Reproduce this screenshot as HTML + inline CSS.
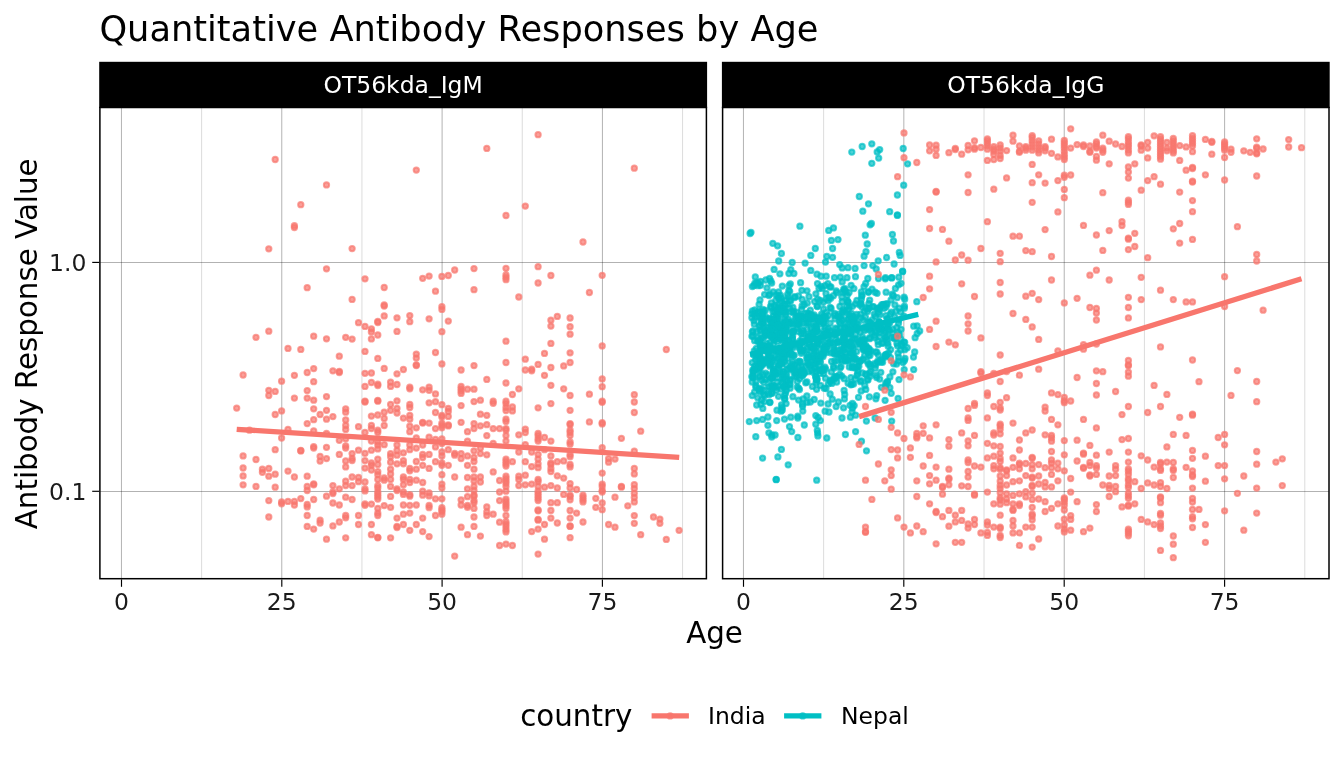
<!DOCTYPE html>
<html lang="en"><head><meta charset="utf-8"><title>Quantitative Antibody Responses by Age</title>
<style>
html,body{margin:0;padding:0;background:#fff}
svg{display:block}
text{font-family:"DejaVu Sans","Liberation Sans",sans-serif;fill:#000}
.ax{font-size:23.47px;fill:#1a1a1a}
.st{font-size:23.47px;fill:#fff}
.lab{font-size:29.33px}
.ttl{font-size:35.2px}
.gM{stroke:#000;stroke-opacity:.3;stroke-width:1}
.gm{stroke:#000;stroke-opacity:.14;stroke-width:1}
.pI{fill:#F8766D;stroke:#F8766D;fill-opacity:.7;stroke-opacity:.7;stroke-width:2}
.pN{fill:#00BFC4;stroke:#00BFC4;fill-opacity:.7;stroke-opacity:.7;stroke-width:2}
.tk{stroke:#000;stroke-width:1.15}
</style></head><body>
<svg width="1344" height="768" viewBox="0 0 1344 768">
<rect width="1344" height="768" fill="#fff"/>
<text class="ttl" x="99.4" y="40.6">Quantitative Antibody Responses by Age</text>

<g>
<line class="gm" x1="201.61" x2="201.61" y1="107.5" y2="578.7"/>
<line class="gm" x1="361.94" x2="361.94" y1="107.5" y2="578.7"/>
<line class="gm" x1="522.26" x2="522.26" y1="107.5" y2="578.7"/>
<line class="gm" x1="682.59" x2="682.59" y1="107.5" y2="578.7"/>
<line class="gM" x1="121.45" x2="121.45" y1="107.5" y2="578.7"/>
<line class="gM" x1="281.78" x2="281.78" y1="107.5" y2="578.7"/>
<line class="gM" x1="442.1" x2="442.1" y1="107.5" y2="578.7"/>
<line class="gM" x1="602.43" x2="602.43" y1="107.5" y2="578.7"/>
<line class="gM" x1="99.9" x2="706.4" y1="262.5" y2="262.5"/>
<line class="gM" x1="99.9" x2="706.4" y1="491.5" y2="491.5"/>
</g>
<g>
<line class="gm" x1="823.64" x2="823.64" y1="107.5" y2="578.7"/>
<line class="gm" x1="984.03" x2="984.03" y1="107.5" y2="578.7"/>
<line class="gm" x1="1144.42" x2="1144.42" y1="107.5" y2="578.7"/>
<line class="gm" x1="1304.81" x2="1304.81" y1="107.5" y2="578.7"/>
<line class="gM" x1="743.45" x2="743.45" y1="107.5" y2="578.7"/>
<line class="gM" x1="903.84" x2="903.84" y1="107.5" y2="578.7"/>
<line class="gM" x1="1064.22" x2="1064.22" y1="107.5" y2="578.7"/>
<line class="gM" x1="1224.61" x2="1224.61" y1="107.5" y2="578.7"/>
<line class="gM" x1="722.6" x2="1329.0" y1="262.5" y2="262.5"/>
<line class="gM" x1="722.6" x2="1329.0" y1="491.5" y2="491.5"/>
</g>
<g class="pI"><circle cx="275.2" cy="159.5" r="2.65"/><circle cx="275.2" cy="391.4" r="2.65"/><circle cx="275.2" cy="414.5" r="2.65"/><circle cx="275.2" cy="449.7" r="2.65"/><circle cx="275.2" cy="474.2" r="2.65"/><circle cx="275.2" cy="487.2" r="2.65"/><circle cx="326.5" cy="184.9" r="2.65"/><circle cx="326.5" cy="268.8" r="2.65"/><circle cx="326.5" cy="338.8" r="2.65"/><circle cx="326.5" cy="396.6" r="2.65"/><circle cx="326.5" cy="410.3" r="2.65"/><circle cx="326.5" cy="419.2" r="2.65"/><circle cx="326.5" cy="433.3" r="2.65"/><circle cx="326.5" cy="447.3" r="2.65"/><circle cx="326.5" cy="458.6" r="2.65"/><circle cx="326.5" cy="496.2" r="2.65"/><circle cx="326.5" cy="539.2" r="2.65"/><circle cx="300.8" cy="204.7" r="2.65"/><circle cx="300.8" cy="349.4" r="2.65"/><circle cx="300.8" cy="450.5" r="2.65"/><circle cx="300.8" cy="450.9" r="2.65"/><circle cx="300.8" cy="498.6" r="2.65"/><circle cx="294.4" cy="225.7" r="2.65"/><circle cx="294.4" cy="227.6" r="2.65"/><circle cx="294.4" cy="375.3" r="2.65"/><circle cx="294.4" cy="398.1" r="2.65"/><circle cx="294.4" cy="477" r="2.65"/><circle cx="294.4" cy="501.4" r="2.65"/><circle cx="294.4" cy="505" r="2.65"/><circle cx="268.8" cy="248.8" r="2.65"/><circle cx="268.8" cy="331.2" r="2.65"/><circle cx="268.8" cy="390.3" r="2.65"/><circle cx="268.8" cy="395.5" r="2.65"/><circle cx="268.8" cy="468.4" r="2.65"/><circle cx="268.8" cy="476.2" r="2.65"/><circle cx="268.8" cy="500.6" r="2.65"/><circle cx="268.8" cy="517" r="2.65"/><circle cx="352.1" cy="248.6" r="2.65"/><circle cx="352.1" cy="299.4" r="2.65"/><circle cx="352.1" cy="339.1" r="2.65"/><circle cx="352.1" cy="453.6" r="2.65"/><circle cx="352.1" cy="458.3" r="2.65"/><circle cx="352.1" cy="460.6" r="2.65"/><circle cx="352.1" cy="477" r="2.65"/><circle cx="352.1" cy="485.6" r="2.65"/><circle cx="352.1" cy="499.5" r="2.65"/><circle cx="416.3" cy="170.1" r="2.65"/><circle cx="416.3" cy="354.1" r="2.65"/><circle cx="416.3" cy="358.1" r="2.65"/><circle cx="416.3" cy="364.8" r="2.65"/><circle cx="416.3" cy="365.6" r="2.65"/><circle cx="416.3" cy="427.8" r="2.65"/><circle cx="416.3" cy="438" r="2.65"/><circle cx="416.3" cy="448.1" r="2.65"/><circle cx="416.3" cy="461.4" r="2.65"/><circle cx="416.3" cy="469.2" r="2.65"/><circle cx="416.3" cy="480.2" r="2.65"/><circle cx="416.3" cy="505" r="2.65"/><circle cx="416.3" cy="524.5" r="2.65"/><circle cx="486.8" cy="148.4" r="2.65"/><circle cx="486.8" cy="379.4" r="2.65"/><circle cx="486.8" cy="415.3" r="2.65"/><circle cx="486.8" cy="424.7" r="2.65"/><circle cx="486.8" cy="435.6" r="2.65"/><circle cx="486.8" cy="454.8" r="2.65"/><circle cx="486.8" cy="506.9" r="2.65"/><circle cx="486.8" cy="511.9" r="2.65"/><circle cx="486.8" cy="515.5" r="2.65"/><circle cx="538.1" cy="134.7" r="2.65"/><circle cx="538.1" cy="266.7" r="2.65"/><circle cx="538.1" cy="283" r="2.65"/><circle cx="538.1" cy="364.4" r="2.65"/><circle cx="538.1" cy="407.8" r="2.65"/><circle cx="538.1" cy="433.3" r="2.65"/><circle cx="538.1" cy="435.6" r="2.65"/><circle cx="538.1" cy="438.8" r="2.65"/><circle cx="538.1" cy="441.1" r="2.65"/><circle cx="538.1" cy="454.4" r="2.65"/><circle cx="538.1" cy="459.1" r="2.65"/><circle cx="538.1" cy="463.8" r="2.65"/><circle cx="538.1" cy="467.7" r="2.65"/><circle cx="538.1" cy="479.4" r="2.65"/><circle cx="538.1" cy="481.7" r="2.65"/><circle cx="538.1" cy="486.4" r="2.65"/><circle cx="538.1" cy="491.2" r="2.65"/><circle cx="538.1" cy="493.6" r="2.65"/><circle cx="538.1" cy="495.9" r="2.65"/><circle cx="538.1" cy="498.3" r="2.65"/><circle cx="538.1" cy="500.6" r="2.65"/><circle cx="538.1" cy="510" r="2.65"/><circle cx="538.1" cy="510.8" r="2.65"/><circle cx="538.1" cy="519.4" r="2.65"/><circle cx="538.1" cy="520.2" r="2.65"/><circle cx="538.1" cy="529.1" r="2.65"/><circle cx="538.1" cy="554.1" r="2.65"/><circle cx="634.3" cy="168.2" r="2.65"/><circle cx="634.3" cy="394.7" r="2.65"/><circle cx="634.3" cy="402" r="2.65"/><circle cx="634.3" cy="412.5" r="2.65"/><circle cx="634.3" cy="451.2" r="2.65"/><circle cx="634.3" cy="468.4" r="2.65"/><circle cx="634.3" cy="473.9" r="2.65"/><circle cx="634.3" cy="484.7" r="2.65"/><circle cx="634.3" cy="488.6" r="2.65"/><circle cx="634.3" cy="493.3" r="2.65"/><circle cx="634.3" cy="497.5" r="2.65"/><circle cx="634.3" cy="501.9" r="2.65"/><circle cx="634.3" cy="515.6" r="2.65"/><circle cx="634.3" cy="523.3" r="2.65"/><circle cx="525.3" cy="206.1" r="2.65"/><circle cx="525.3" cy="359.2" r="2.65"/><circle cx="525.3" cy="370" r="2.65"/><circle cx="525.3" cy="429.1" r="2.65"/><circle cx="525.3" cy="432.5" r="2.65"/><circle cx="525.3" cy="444.7" r="2.65"/><circle cx="525.3" cy="461.7" r="2.65"/><circle cx="525.3" cy="475.2" r="2.65"/><circle cx="525.3" cy="484.8" r="2.65"/><circle cx="506" cy="215.5" r="2.65"/><circle cx="506" cy="268.3" r="2.65"/><circle cx="506" cy="275" r="2.65"/><circle cx="506" cy="277.3" r="2.65"/><circle cx="506" cy="279.7" r="2.65"/><circle cx="506" cy="341.2" r="2.65"/><circle cx="506" cy="362.5" r="2.65"/><circle cx="506" cy="383" r="2.65"/><circle cx="506" cy="401.2" r="2.65"/><circle cx="506" cy="403.6" r="2.65"/><circle cx="506" cy="407.5" r="2.65"/><circle cx="506" cy="410.6" r="2.65"/><circle cx="506" cy="419.2" r="2.65"/><circle cx="506" cy="421.6" r="2.65"/><circle cx="506" cy="428.6" r="2.65"/><circle cx="506" cy="430.2" r="2.65"/><circle cx="506" cy="435.6" r="2.65"/><circle cx="506" cy="441.1" r="2.65"/><circle cx="506" cy="459.1" r="2.65"/><circle cx="506" cy="461.4" r="2.65"/><circle cx="506" cy="463.8" r="2.65"/><circle cx="506" cy="466.1" r="2.65"/><circle cx="506" cy="476.2" r="2.65"/><circle cx="506" cy="478.6" r="2.65"/><circle cx="506" cy="480.9" r="2.65"/><circle cx="506" cy="483.3" r="2.65"/><circle cx="506" cy="486.4" r="2.65"/><circle cx="506" cy="491.2" r="2.65"/><circle cx="506" cy="499.1" r="2.65"/><circle cx="506" cy="501.4" r="2.65"/><circle cx="506" cy="503.8" r="2.65"/><circle cx="506" cy="506.1" r="2.65"/><circle cx="506" cy="508.4" r="2.65"/><circle cx="506" cy="515.5" r="2.65"/><circle cx="506" cy="521.7" r="2.65"/><circle cx="506" cy="524.1" r="2.65"/><circle cx="506" cy="526.4" r="2.65"/><circle cx="506" cy="529.5" r="2.65"/><circle cx="506" cy="531.9" r="2.65"/><circle cx="506" cy="544.1" r="2.65"/><circle cx="583" cy="242" r="2.65"/><circle cx="583" cy="495.2" r="2.65"/><circle cx="583" cy="497.5" r="2.65"/><circle cx="583" cy="499.8" r="2.65"/><circle cx="583" cy="501.9" r="2.65"/><circle cx="583" cy="522" r="2.65"/><circle cx="307.2" cy="287.7" r="2.65"/><circle cx="307.2" cy="372.5" r="2.65"/><circle cx="307.2" cy="390.6" r="2.65"/><circle cx="307.2" cy="398.1" r="2.65"/><circle cx="307.2" cy="423.6" r="2.65"/><circle cx="307.2" cy="476.2" r="2.65"/><circle cx="307.2" cy="486.4" r="2.65"/><circle cx="307.2" cy="490.5" r="2.65"/><circle cx="307.2" cy="504.5" r="2.65"/><circle cx="307.2" cy="506.9" r="2.65"/><circle cx="307.2" cy="515.5" r="2.65"/><circle cx="307.2" cy="526.4" r="2.65"/><circle cx="365" cy="278.8" r="2.65"/><circle cx="365" cy="326.4" r="2.65"/><circle cx="365" cy="351.4" r="2.65"/><circle cx="365" cy="373.3" r="2.65"/><circle cx="365" cy="386.4" r="2.65"/><circle cx="365" cy="401.2" r="2.65"/><circle cx="365" cy="402" r="2.65"/><circle cx="365" cy="432.5" r="2.65"/><circle cx="365" cy="453.3" r="2.65"/><circle cx="365" cy="460.6" r="2.65"/><circle cx="365" cy="468.1" r="2.65"/><circle cx="365" cy="482" r="2.65"/><circle cx="365" cy="488.8" r="2.65"/><circle cx="365" cy="490.9" r="2.65"/><circle cx="365" cy="503.8" r="2.65"/><circle cx="365" cy="505.3" r="2.65"/><circle cx="384.2" cy="287.5" r="2.65"/><circle cx="384.2" cy="305" r="2.65"/><circle cx="384.2" cy="306.1" r="2.65"/><circle cx="384.2" cy="315.9" r="2.65"/><circle cx="384.2" cy="368.4" r="2.65"/><circle cx="384.2" cy="412.2" r="2.65"/><circle cx="384.2" cy="418.4" r="2.65"/><circle cx="384.2" cy="425.5" r="2.65"/><circle cx="384.2" cy="444.7" r="2.65"/><circle cx="384.2" cy="477.8" r="2.65"/><circle cx="384.2" cy="480.2" r="2.65"/><circle cx="384.2" cy="505.6" r="2.65"/><circle cx="422.7" cy="278.3" r="2.65"/><circle cx="422.7" cy="389.8" r="2.65"/><circle cx="422.7" cy="422.3" r="2.65"/><circle cx="422.7" cy="423.1" r="2.65"/><circle cx="422.7" cy="445" r="2.65"/><circle cx="422.7" cy="454.4" r="2.65"/><circle cx="422.7" cy="457.5" r="2.65"/><circle cx="422.7" cy="465.3" r="2.65"/><circle cx="422.7" cy="482.5" r="2.65"/><circle cx="422.7" cy="491.2" r="2.65"/><circle cx="422.7" cy="495.2" r="2.65"/><circle cx="422.7" cy="518.1" r="2.65"/><circle cx="422.7" cy="531.6" r="2.65"/><circle cx="429.1" cy="276.1" r="2.65"/><circle cx="429.1" cy="318.8" r="2.65"/><circle cx="429.1" cy="387.2" r="2.65"/><circle cx="429.1" cy="390.3" r="2.65"/><circle cx="429.1" cy="402.8" r="2.65"/><circle cx="429.1" cy="423.1" r="2.65"/><circle cx="429.1" cy="437.2" r="2.65"/><circle cx="429.1" cy="454.4" r="2.65"/><circle cx="429.1" cy="468.4" r="2.65"/><circle cx="429.1" cy="495.9" r="2.65"/><circle cx="429.1" cy="507.7" r="2.65"/><circle cx="429.1" cy="536.6" r="2.65"/><circle cx="429.1" cy="492.8" r="2.65"/><circle cx="429.1" cy="505.3" r="2.65"/><circle cx="397" cy="317.8" r="2.65"/><circle cx="397" cy="331.4" r="2.65"/><circle cx="397" cy="373.8" r="2.65"/><circle cx="397" cy="384.5" r="2.65"/><circle cx="397" cy="400.8" r="2.65"/><circle cx="397" cy="408.3" r="2.65"/><circle cx="397" cy="413" r="2.65"/><circle cx="397" cy="445" r="2.65"/><circle cx="397" cy="450.5" r="2.65"/><circle cx="397" cy="455.2" r="2.65"/><circle cx="397" cy="463.8" r="2.65"/><circle cx="397" cy="488.8" r="2.65"/><circle cx="397" cy="490.5" r="2.65"/><circle cx="397" cy="518.1" r="2.65"/><circle cx="397" cy="526.4" r="2.65"/><circle cx="397" cy="527.5" r="2.65"/><circle cx="409.8" cy="315.6" r="2.65"/><circle cx="409.8" cy="321.7" r="2.65"/><circle cx="409.8" cy="387.2" r="2.65"/><circle cx="409.8" cy="388.8" r="2.65"/><circle cx="409.8" cy="404.4" r="2.65"/><circle cx="409.8" cy="407.5" r="2.65"/><circle cx="409.8" cy="415.3" r="2.65"/><circle cx="409.8" cy="419.2" r="2.65"/><circle cx="409.8" cy="426.2" r="2.65"/><circle cx="409.8" cy="431.7" r="2.65"/><circle cx="409.8" cy="445" r="2.65"/><circle cx="409.8" cy="449.7" r="2.65"/><circle cx="409.8" cy="468.4" r="2.65"/><circle cx="409.8" cy="470.8" r="2.65"/><circle cx="409.8" cy="479.4" r="2.65"/><circle cx="409.8" cy="482.5" r="2.65"/><circle cx="409.8" cy="494.7" r="2.65"/><circle cx="409.8" cy="496.2" r="2.65"/><circle cx="409.8" cy="505.3" r="2.65"/><circle cx="409.8" cy="513.1" r="2.65"/><circle cx="409.8" cy="530.3" r="2.65"/><circle cx="358.5" cy="322.7" r="2.65"/><circle cx="358.5" cy="426.7" r="2.65"/><circle cx="358.5" cy="450.2" r="2.65"/><circle cx="358.5" cy="477.5" r="2.65"/><circle cx="358.5" cy="481.7" r="2.65"/><circle cx="358.5" cy="515.5" r="2.65"/><circle cx="358.5" cy="524.5" r="2.65"/><circle cx="377.8" cy="321.4" r="2.65"/><circle cx="377.8" cy="322.5" r="2.65"/><circle cx="377.8" cy="335" r="2.65"/><circle cx="377.8" cy="358.4" r="2.65"/><circle cx="377.8" cy="384.1" r="2.65"/><circle cx="377.8" cy="385.6" r="2.65"/><circle cx="377.8" cy="400.5" r="2.65"/><circle cx="377.8" cy="401.2" r="2.65"/><circle cx="377.8" cy="415" r="2.65"/><circle cx="377.8" cy="430.2" r="2.65"/><circle cx="377.8" cy="432.5" r="2.65"/><circle cx="377.8" cy="441.9" r="2.65"/><circle cx="377.8" cy="445" r="2.65"/><circle cx="377.8" cy="448.9" r="2.65"/><circle cx="377.8" cy="459.1" r="2.65"/><circle cx="377.8" cy="464.5" r="2.65"/><circle cx="377.8" cy="471.6" r="2.65"/><circle cx="377.8" cy="474.7" r="2.65"/><circle cx="377.8" cy="479.4" r="2.65"/><circle cx="377.8" cy="485.6" r="2.65"/><circle cx="377.8" cy="488" r="2.65"/><circle cx="377.8" cy="492" r="2.65"/><circle cx="377.8" cy="494.4" r="2.65"/><circle cx="377.8" cy="496.7" r="2.65"/><circle cx="377.8" cy="499.1" r="2.65"/><circle cx="377.8" cy="508.4" r="2.65"/><circle cx="377.8" cy="513.1" r="2.65"/><circle cx="377.8" cy="515.5" r="2.65"/><circle cx="377.8" cy="537.3" r="2.65"/><circle cx="377.8" cy="537.8" r="2.65"/><circle cx="371.4" cy="328.8" r="2.65"/><circle cx="371.4" cy="331.9" r="2.65"/><circle cx="371.4" cy="338.9" r="2.65"/><circle cx="371.4" cy="373" r="2.65"/><circle cx="371.4" cy="382.5" r="2.65"/><circle cx="371.4" cy="416.1" r="2.65"/><circle cx="371.4" cy="425.5" r="2.65"/><circle cx="371.4" cy="428.6" r="2.65"/><circle cx="371.4" cy="441.1" r="2.65"/><circle cx="371.4" cy="450.2" r="2.65"/><circle cx="371.4" cy="463" r="2.65"/><circle cx="371.4" cy="465.3" r="2.65"/><circle cx="371.4" cy="470" r="2.65"/><circle cx="371.4" cy="504.1" r="2.65"/><circle cx="371.4" cy="524.5" r="2.65"/><circle cx="371.4" cy="534.7" r="2.65"/><circle cx="256" cy="337.3" r="2.65"/><circle cx="256" cy="459.5" r="2.65"/><circle cx="256" cy="486.4" r="2.65"/><circle cx="313.7" cy="336.2" r="2.65"/><circle cx="313.7" cy="368.6" r="2.65"/><circle cx="313.7" cy="381.7" r="2.65"/><circle cx="313.7" cy="400.2" r="2.65"/><circle cx="313.7" cy="408.8" r="2.65"/><circle cx="313.7" cy="419.7" r="2.65"/><circle cx="313.7" cy="430.9" r="2.65"/><circle cx="313.7" cy="446.6" r="2.65"/><circle cx="313.7" cy="448.1" r="2.65"/><circle cx="313.7" cy="483.8" r="2.65"/><circle cx="313.7" cy="484.8" r="2.65"/><circle cx="313.7" cy="499.5" r="2.65"/><circle cx="313.7" cy="529.1" r="2.65"/><circle cx="345.7" cy="337.3" r="2.65"/><circle cx="345.7" cy="408.8" r="2.65"/><circle cx="345.7" cy="412.2" r="2.65"/><circle cx="345.7" cy="420" r="2.65"/><circle cx="345.7" cy="425.5" r="2.65"/><circle cx="345.7" cy="429.4" r="2.65"/><circle cx="345.7" cy="438.8" r="2.65"/><circle cx="345.7" cy="445.8" r="2.65"/><circle cx="345.7" cy="448.1" r="2.65"/><circle cx="345.7" cy="460.9" r="2.65"/><circle cx="345.7" cy="466.9" r="2.65"/><circle cx="345.7" cy="481.2" r="2.65"/><circle cx="345.7" cy="485.6" r="2.65"/><circle cx="345.7" cy="497.2" r="2.65"/><circle cx="345.7" cy="515.5" r="2.65"/><circle cx="345.7" cy="517.8" r="2.65"/><circle cx="345.7" cy="537.8" r="2.65"/><circle cx="288" cy="348.4" r="2.65"/><circle cx="288" cy="429.4" r="2.65"/><circle cx="288" cy="471.1" r="2.65"/><circle cx="288" cy="501.4" r="2.65"/><circle cx="339.3" cy="356.2" r="2.65"/><circle cx="339.3" cy="371.4" r="2.65"/><circle cx="339.3" cy="372.5" r="2.65"/><circle cx="339.3" cy="440.3" r="2.65"/><circle cx="339.3" cy="454.4" r="2.65"/><circle cx="339.3" cy="488.8" r="2.65"/><circle cx="339.3" cy="505" r="2.65"/><circle cx="339.3" cy="522" r="2.65"/><circle cx="332.9" cy="370.8" r="2.65"/><circle cx="332.9" cy="416.6" r="2.65"/><circle cx="332.9" cy="485.6" r="2.65"/><circle cx="332.9" cy="492" r="2.65"/><circle cx="332.9" cy="493.6" r="2.65"/><circle cx="332.9" cy="503" r="2.65"/><circle cx="332.9" cy="525.9" r="2.65"/><circle cx="403.4" cy="369.5" r="2.65"/><circle cx="403.4" cy="418.1" r="2.65"/><circle cx="403.4" cy="452.8" r="2.65"/><circle cx="403.4" cy="460.6" r="2.65"/><circle cx="403.4" cy="463.8" r="2.65"/><circle cx="403.4" cy="477" r="2.65"/><circle cx="403.4" cy="479.4" r="2.65"/><circle cx="403.4" cy="484.8" r="2.65"/><circle cx="403.4" cy="492" r="2.65"/><circle cx="403.4" cy="494.4" r="2.65"/><circle cx="403.4" cy="505" r="2.65"/><circle cx="403.4" cy="514.2" r="2.65"/><circle cx="403.4" cy="524.5" r="2.65"/><circle cx="243.1" cy="375" r="2.65"/><circle cx="243.1" cy="455.9" r="2.65"/><circle cx="243.1" cy="468" r="2.65"/><circle cx="243.1" cy="475.9" r="2.65"/><circle cx="243.1" cy="484.8" r="2.65"/><circle cx="441.9" cy="276.4" r="2.65"/><circle cx="441.9" cy="306.6" r="2.65"/><circle cx="441.9" cy="309.4" r="2.65"/><circle cx="441.9" cy="331.7" r="2.65"/><circle cx="441.9" cy="363.9" r="2.65"/><circle cx="441.9" cy="404.7" r="2.65"/><circle cx="441.9" cy="415.3" r="2.65"/><circle cx="441.9" cy="416.9" r="2.65"/><circle cx="441.9" cy="423.1" r="2.65"/><circle cx="441.9" cy="425.5" r="2.65"/><circle cx="441.9" cy="427.8" r="2.65"/><circle cx="441.9" cy="438.8" r="2.65"/><circle cx="441.9" cy="443.4" r="2.65"/><circle cx="441.9" cy="452" r="2.65"/><circle cx="441.9" cy="455.9" r="2.65"/><circle cx="441.9" cy="463" r="2.65"/><circle cx="441.9" cy="465.3" r="2.65"/><circle cx="441.9" cy="474.7" r="2.65"/><circle cx="441.9" cy="484.1" r="2.65"/><circle cx="441.9" cy="488" r="2.65"/><circle cx="441.9" cy="498.8" r="2.65"/><circle cx="441.9" cy="507.7" r="2.65"/><circle cx="441.9" cy="510" r="2.65"/><circle cx="441.9" cy="511.6" r="2.65"/><circle cx="441.9" cy="514.2" r="2.65"/><circle cx="448.3" cy="275.5" r="2.65"/><circle cx="448.3" cy="321.1" r="2.65"/><circle cx="448.3" cy="408.3" r="2.65"/><circle cx="448.3" cy="411.4" r="2.65"/><circle cx="448.3" cy="416.4" r="2.65"/><circle cx="448.3" cy="425" r="2.65"/><circle cx="448.3" cy="425.9" r="2.65"/><circle cx="448.3" cy="449.7" r="2.65"/><circle cx="448.3" cy="465.3" r="2.65"/><circle cx="454.7" cy="270" r="2.65"/><circle cx="454.7" cy="453.3" r="2.65"/><circle cx="454.7" cy="455.2" r="2.65"/><circle cx="454.7" cy="477" r="2.65"/><circle cx="454.7" cy="556.1" r="2.65"/><circle cx="474" cy="268.6" r="2.65"/><circle cx="474" cy="289.7" r="2.65"/><circle cx="474" cy="365.6" r="2.65"/><circle cx="474" cy="389.2" r="2.65"/><circle cx="474" cy="401.6" r="2.65"/><circle cx="474" cy="423.6" r="2.65"/><circle cx="474" cy="428.6" r="2.65"/><circle cx="474" cy="450.8" r="2.65"/><circle cx="474" cy="457.5" r="2.65"/><circle cx="474" cy="461.4" r="2.65"/><circle cx="474" cy="469.2" r="2.65"/><circle cx="474" cy="477" r="2.65"/><circle cx="474" cy="480.9" r="2.65"/><circle cx="474" cy="486.4" r="2.65"/><circle cx="474" cy="490.5" r="2.65"/><circle cx="474" cy="495.2" r="2.65"/><circle cx="474" cy="496.2" r="2.65"/><circle cx="474" cy="500.6" r="2.65"/><circle cx="474" cy="502.7" r="2.65"/><circle cx="474" cy="508.4" r="2.65"/><circle cx="474" cy="517" r="2.65"/><circle cx="474" cy="526.4" r="2.65"/><circle cx="550.9" cy="275.5" r="2.65"/><circle cx="550.9" cy="320.2" r="2.65"/><circle cx="550.9" cy="326.1" r="2.65"/><circle cx="550.9" cy="343.4" r="2.65"/><circle cx="550.9" cy="367.5" r="2.65"/><circle cx="550.9" cy="385.3" r="2.65"/><circle cx="550.9" cy="403.6" r="2.65"/><circle cx="550.9" cy="441.1" r="2.65"/><circle cx="550.9" cy="455.9" r="2.65"/><circle cx="550.9" cy="463" r="2.65"/><circle cx="550.9" cy="464.5" r="2.65"/><circle cx="550.9" cy="468.4" r="2.65"/><circle cx="550.9" cy="471.6" r="2.65"/><circle cx="550.9" cy="485.6" r="2.65"/><circle cx="550.9" cy="502.7" r="2.65"/><circle cx="550.9" cy="510.5" r="2.65"/><circle cx="550.9" cy="518.1" r="2.65"/><circle cx="602.2" cy="275.3" r="2.65"/><circle cx="602.2" cy="345.9" r="2.65"/><circle cx="602.2" cy="378.9" r="2.65"/><circle cx="602.2" cy="386.7" r="2.65"/><circle cx="602.2" cy="401.2" r="2.65"/><circle cx="602.2" cy="402.3" r="2.65"/><circle cx="602.2" cy="422.7" r="2.65"/><circle cx="602.2" cy="423.9" r="2.65"/><circle cx="602.2" cy="447.7" r="2.65"/><circle cx="602.2" cy="473.1" r="2.65"/><circle cx="602.2" cy="484.1" r="2.65"/><circle cx="602.2" cy="486.4" r="2.65"/><circle cx="602.2" cy="490.5" r="2.65"/><circle cx="602.2" cy="492" r="2.65"/><circle cx="602.2" cy="503" r="2.65"/><circle cx="602.2" cy="509.7" r="2.65"/><circle cx="435.5" cy="291.2" r="2.65"/><circle cx="435.5" cy="352.5" r="2.65"/><circle cx="435.5" cy="393.9" r="2.65"/><circle cx="435.5" cy="401.7" r="2.65"/><circle cx="435.5" cy="412.5" r="2.65"/><circle cx="435.5" cy="428.6" r="2.65"/><circle cx="435.5" cy="439.5" r="2.65"/><circle cx="435.5" cy="446.9" r="2.65"/><circle cx="435.5" cy="461.7" r="2.65"/><circle cx="435.5" cy="498.8" r="2.65"/><circle cx="435.5" cy="515.5" r="2.65"/><circle cx="518.8" cy="297" r="2.65"/><circle cx="518.8" cy="388.8" r="2.65"/><circle cx="518.8" cy="434.8" r="2.65"/><circle cx="518.8" cy="452" r="2.65"/><circle cx="518.8" cy="476.2" r="2.65"/><circle cx="518.8" cy="479.4" r="2.65"/><circle cx="518.8" cy="485.6" r="2.65"/><circle cx="589.4" cy="292.5" r="2.65"/><circle cx="589.4" cy="394.2" r="2.65"/><circle cx="589.4" cy="421.9" r="2.65"/><circle cx="557.3" cy="316.4" r="2.65"/><circle cx="557.3" cy="461.7" r="2.65"/><circle cx="557.3" cy="475.8" r="2.65"/><circle cx="557.3" cy="488" r="2.65"/><circle cx="557.3" cy="502.7" r="2.65"/><circle cx="557.3" cy="523" r="2.65"/><circle cx="570.1" cy="318" r="2.65"/><circle cx="570.1" cy="326.7" r="2.65"/><circle cx="570.1" cy="334.2" r="2.65"/><circle cx="570.1" cy="352.8" r="2.65"/><circle cx="570.1" cy="362.5" r="2.65"/><circle cx="570.1" cy="395.5" r="2.65"/><circle cx="570.1" cy="410.3" r="2.65"/><circle cx="570.1" cy="423.6" r="2.65"/><circle cx="570.1" cy="424.7" r="2.65"/><circle cx="570.1" cy="430.2" r="2.65"/><circle cx="570.1" cy="432.5" r="2.65"/><circle cx="570.1" cy="435.6" r="2.65"/><circle cx="570.1" cy="441.9" r="2.65"/><circle cx="570.1" cy="444.2" r="2.65"/><circle cx="570.1" cy="454.4" r="2.65"/><circle cx="570.1" cy="456.7" r="2.65"/><circle cx="570.1" cy="464.5" r="2.65"/><circle cx="570.1" cy="466.9" r="2.65"/><circle cx="570.1" cy="483.6" r="2.65"/><circle cx="570.1" cy="488" r="2.65"/><circle cx="570.1" cy="495.2" r="2.65"/><circle cx="570.1" cy="496.7" r="2.65"/><circle cx="570.1" cy="499.8" r="2.65"/><circle cx="570.1" cy="510.5" r="2.65"/><circle cx="570.1" cy="518.1" r="2.65"/><circle cx="570.1" cy="525.9" r="2.65"/><circle cx="570.1" cy="526.4" r="2.65"/><circle cx="570.1" cy="537.7" r="2.65"/><circle cx="544.5" cy="353.4" r="2.65"/><circle cx="544.5" cy="375.3" r="2.65"/><circle cx="544.5" cy="437.5" r="2.65"/><circle cx="544.5" cy="449.7" r="2.65"/><circle cx="544.5" cy="487.2" r="2.65"/><circle cx="544.5" cy="524.5" r="2.65"/><circle cx="544.5" cy="539.2" r="2.65"/><circle cx="563.7" cy="365.9" r="2.65"/><circle cx="563.7" cy="388.8" r="2.65"/><circle cx="563.7" cy="460.9" r="2.65"/><circle cx="563.7" cy="478.1" r="2.65"/><circle cx="563.7" cy="494.4" r="2.65"/><circle cx="461.1" cy="370" r="2.65"/><circle cx="461.1" cy="386.4" r="2.65"/><circle cx="461.1" cy="388.8" r="2.65"/><circle cx="461.1" cy="391.1" r="2.65"/><circle cx="461.1" cy="393.4" r="2.65"/><circle cx="461.1" cy="405.6" r="2.65"/><circle cx="461.1" cy="422.3" r="2.65"/><circle cx="461.1" cy="453.6" r="2.65"/><circle cx="461.1" cy="458.6" r="2.65"/><circle cx="461.1" cy="499.8" r="2.65"/><circle cx="461.1" cy="505" r="2.65"/><circle cx="461.1" cy="527.2" r="2.65"/><circle cx="531.7" cy="369.1" r="2.65"/><circle cx="531.7" cy="370.8" r="2.65"/><circle cx="531.7" cy="452" r="2.65"/><circle cx="531.7" cy="466.6" r="2.65"/><circle cx="531.7" cy="484.1" r="2.65"/><circle cx="531.7" cy="531.6" r="2.65"/><circle cx="666.3" cy="349.5" r="2.65"/><circle cx="666.3" cy="539.4" r="2.65"/><circle cx="236.7" cy="408.1" r="2.65"/><circle cx="249.5" cy="430.2" r="2.65"/><circle cx="262.4" cy="469.2" r="2.65"/><circle cx="262.4" cy="472.3" r="2.65"/><circle cx="281.6" cy="381.2" r="2.65"/><circle cx="281.6" cy="410.9" r="2.65"/><circle cx="281.6" cy="438" r="2.65"/><circle cx="281.6" cy="501.9" r="2.65"/><circle cx="281.6" cy="503.8" r="2.65"/><circle cx="320.1" cy="414.5" r="2.65"/><circle cx="320.1" cy="456.4" r="2.65"/><circle cx="320.1" cy="461.1" r="2.65"/><circle cx="320.1" cy="520.2" r="2.65"/><circle cx="320.1" cy="523" r="2.65"/><circle cx="390.6" cy="382.2" r="2.65"/><circle cx="390.6" cy="386.4" r="2.65"/><circle cx="390.6" cy="404.4" r="2.65"/><circle cx="390.6" cy="410.3" r="2.65"/><circle cx="390.6" cy="453.6" r="2.65"/><circle cx="390.6" cy="456.7" r="2.65"/><circle cx="390.6" cy="462.2" r="2.65"/><circle cx="390.6" cy="469.2" r="2.65"/><circle cx="390.6" cy="473.9" r="2.65"/><circle cx="390.6" cy="479.4" r="2.65"/><circle cx="390.6" cy="486.4" r="2.65"/><circle cx="390.6" cy="496.4" r="2.65"/><circle cx="390.6" cy="507.3" r="2.65"/><circle cx="390.6" cy="537.8" r="2.65"/><circle cx="467.5" cy="389.2" r="2.65"/><circle cx="467.5" cy="431.7" r="2.65"/><circle cx="467.5" cy="441.1" r="2.65"/><circle cx="467.5" cy="455.9" r="2.65"/><circle cx="467.5" cy="465.3" r="2.65"/><circle cx="467.5" cy="477.5" r="2.65"/><circle cx="467.5" cy="488.8" r="2.65"/><circle cx="467.5" cy="496.7" r="2.65"/><circle cx="467.5" cy="505.3" r="2.65"/><circle cx="467.5" cy="507.3" r="2.65"/><circle cx="467.5" cy="534.7" r="2.65"/><circle cx="480.4" cy="400.2" r="2.65"/><circle cx="480.4" cy="414.2" r="2.65"/><circle cx="480.4" cy="425.8" r="2.65"/><circle cx="480.4" cy="448.1" r="2.65"/><circle cx="480.4" cy="453.6" r="2.65"/><circle cx="480.4" cy="477" r="2.65"/><circle cx="480.4" cy="482" r="2.65"/><circle cx="480.4" cy="536.1" r="2.65"/><circle cx="493.2" cy="401.2" r="2.65"/><circle cx="493.2" cy="403.3" r="2.65"/><circle cx="493.2" cy="428.6" r="2.65"/><circle cx="493.2" cy="443.4" r="2.65"/><circle cx="493.2" cy="471.9" r="2.65"/><circle cx="493.2" cy="514.2" r="2.65"/><circle cx="499.6" cy="428.6" r="2.65"/><circle cx="499.6" cy="480.5" r="2.65"/><circle cx="499.6" cy="492" r="2.65"/><circle cx="499.6" cy="500.6" r="2.65"/><circle cx="499.6" cy="522.2" r="2.65"/><circle cx="499.6" cy="545.5" r="2.65"/><circle cx="512.4" cy="394.5" r="2.65"/><circle cx="512.4" cy="407" r="2.65"/><circle cx="512.4" cy="410.9" r="2.65"/><circle cx="512.4" cy="461.7" r="2.65"/><circle cx="512.4" cy="545.5" r="2.65"/><circle cx="576.6" cy="489.5" r="2.65"/><circle cx="576.6" cy="513.1" r="2.65"/><circle cx="608.6" cy="458.6" r="2.65"/><circle cx="608.6" cy="462.2" r="2.65"/><circle cx="608.6" cy="524.5" r="2.65"/><circle cx="615" cy="459.1" r="2.65"/><circle cx="615" cy="497.2" r="2.65"/><circle cx="615" cy="527.2" r="2.65"/><circle cx="621.4" cy="438.3" r="2.65"/><circle cx="621.4" cy="486.4" r="2.65"/><circle cx="621.4" cy="487.2" r="2.65"/><circle cx="595.8" cy="498.3" r="2.65"/><circle cx="595.8" cy="507.3" r="2.65"/><circle cx="627.8" cy="505.8" r="2.65"/><circle cx="640.7" cy="431.2" r="2.65"/><circle cx="640.7" cy="534.7" r="2.65"/><circle cx="653.5" cy="517" r="2.65"/><circle cx="659.9" cy="519.1" r="2.65"/><circle cx="659.9" cy="523.3" r="2.65"/><circle cx="679.1" cy="530.3" r="2.65"/></g>

<g class="pN"><circle cx="777.2" cy="331.4" r="2.65"/><circle cx="830.1" cy="323.2" r="2.65"/><circle cx="753.1" cy="377" r="2.65"/><circle cx="903.9" cy="342.1" r="2.65"/><circle cx="866.3" cy="329.1" r="2.65"/><circle cx="831.6" cy="361.4" r="2.65"/><circle cx="814.1" cy="358.2" r="2.65"/><circle cx="852.6" cy="339.6" r="2.65"/><circle cx="784.1" cy="318.7" r="2.65"/><circle cx="845.7" cy="353.5" r="2.65"/><circle cx="844.9" cy="347.2" r="2.65"/><circle cx="803.1" cy="398.8" r="2.65"/><circle cx="874.2" cy="314.1" r="2.65"/><circle cx="894.2" cy="337.7" r="2.65"/><circle cx="830.2" cy="307.5" r="2.65"/><circle cx="789.9" cy="350.4" r="2.65"/><circle cx="823.1" cy="356.4" r="2.65"/><circle cx="869.8" cy="338.7" r="2.65"/><circle cx="837.7" cy="341.6" r="2.65"/><circle cx="879.9" cy="309.1" r="2.65"/><circle cx="844.8" cy="327.4" r="2.65"/><circle cx="782.3" cy="286.1" r="2.65"/><circle cx="869.4" cy="396.8" r="2.65"/><circle cx="798.3" cy="331.5" r="2.65"/><circle cx="783.3" cy="371.6" r="2.65"/><circle cx="828.2" cy="300.7" r="2.65"/><circle cx="845.6" cy="360.4" r="2.65"/><circle cx="811.6" cy="348.4" r="2.65"/><circle cx="785.1" cy="304.7" r="2.65"/><circle cx="772.7" cy="334.9" r="2.65"/><circle cx="827.5" cy="347" r="2.65"/><circle cx="785.5" cy="393.4" r="2.65"/><circle cx="878.2" cy="308.3" r="2.65"/><circle cx="833.1" cy="352.6" r="2.65"/><circle cx="819.2" cy="370.4" r="2.65"/><circle cx="801.2" cy="353.3" r="2.65"/><circle cx="777.1" cy="350.9" r="2.65"/><circle cx="817.7" cy="299.1" r="2.65"/><circle cx="798.9" cy="374.9" r="2.65"/><circle cx="831.1" cy="308.5" r="2.65"/><circle cx="830.3" cy="330.6" r="2.65"/><circle cx="843.7" cy="343" r="2.65"/><circle cx="754" cy="285.5" r="2.65"/><circle cx="778.6" cy="297.9" r="2.65"/><circle cx="824.5" cy="316.5" r="2.65"/><circle cx="792.4" cy="363.9" r="2.65"/><circle cx="784" cy="334.8" r="2.65"/><circle cx="820.6" cy="355.9" r="2.65"/><circle cx="785.1" cy="325.5" r="2.65"/><circle cx="771.6" cy="326.9" r="2.65"/><circle cx="842.2" cy="301.7" r="2.65"/><circle cx="865.8" cy="345.4" r="2.65"/><circle cx="869.7" cy="300.2" r="2.65"/><circle cx="875.6" cy="352" r="2.65"/><circle cx="775.8" cy="300.5" r="2.65"/><circle cx="861.1" cy="360.4" r="2.65"/><circle cx="771.2" cy="336.2" r="2.65"/><circle cx="861" cy="303.8" r="2.65"/><circle cx="765.3" cy="332.3" r="2.65"/><circle cx="789.2" cy="322.9" r="2.65"/><circle cx="799.6" cy="345" r="2.65"/><circle cx="752.2" cy="382" r="2.65"/><circle cx="874.5" cy="335.5" r="2.65"/><circle cx="884.9" cy="330.5" r="2.65"/><circle cx="850.3" cy="353.3" r="2.65"/><circle cx="782.8" cy="311.8" r="2.65"/><circle cx="776" cy="294.8" r="2.65"/><circle cx="861.7" cy="296.3" r="2.65"/><circle cx="879.7" cy="379.1" r="2.65"/><circle cx="878.8" cy="325.6" r="2.65"/><circle cx="753.1" cy="377.4" r="2.65"/><circle cx="836.3" cy="354.3" r="2.65"/><circle cx="798.7" cy="367" r="2.65"/><circle cx="778.8" cy="365.1" r="2.65"/><circle cx="807.7" cy="358.4" r="2.65"/><circle cx="815.7" cy="376.6" r="2.65"/><circle cx="769.8" cy="402.1" r="2.65"/><circle cx="864" cy="286.7" r="2.65"/><circle cx="830.5" cy="381.8" r="2.65"/><circle cx="780.5" cy="351.9" r="2.65"/><circle cx="800" cy="341" r="2.65"/><circle cx="757.4" cy="312.8" r="2.65"/><circle cx="764.7" cy="346" r="2.65"/><circle cx="760.6" cy="341" r="2.65"/><circle cx="785.7" cy="312.7" r="2.65"/><circle cx="823.5" cy="350.1" r="2.65"/><circle cx="772" cy="348.2" r="2.65"/><circle cx="845.2" cy="344.6" r="2.65"/><circle cx="760" cy="299.9" r="2.65"/><circle cx="856.8" cy="344.7" r="2.65"/><circle cx="860.1" cy="332.1" r="2.65"/><circle cx="810.3" cy="365.9" r="2.65"/><circle cx="799.7" cy="346" r="2.65"/><circle cx="815.9" cy="360.6" r="2.65"/><circle cx="759.1" cy="304.5" r="2.65"/><circle cx="886.9" cy="340.2" r="2.65"/><circle cx="878.4" cy="355.1" r="2.65"/><circle cx="764.6" cy="395.6" r="2.65"/><circle cx="836.2" cy="376.5" r="2.65"/><circle cx="848.2" cy="319.4" r="2.65"/><circle cx="762.4" cy="365.3" r="2.65"/><circle cx="855.4" cy="303.8" r="2.65"/><circle cx="761.2" cy="320.3" r="2.65"/><circle cx="754.1" cy="369.6" r="2.65"/><circle cx="764.3" cy="359.8" r="2.65"/><circle cx="890.4" cy="314" r="2.65"/><circle cx="859.7" cy="305" r="2.65"/><circle cx="845" cy="288.6" r="2.65"/><circle cx="850.9" cy="384.8" r="2.65"/><circle cx="819.9" cy="373.4" r="2.65"/><circle cx="777.6" cy="317.7" r="2.65"/><circle cx="851.7" cy="353.1" r="2.65"/><circle cx="792.2" cy="323.8" r="2.65"/><circle cx="760.3" cy="363.3" r="2.65"/><circle cx="896.7" cy="327.6" r="2.65"/><circle cx="841" cy="348.9" r="2.65"/><circle cx="838.1" cy="316.4" r="2.65"/><circle cx="878.3" cy="312.7" r="2.65"/><circle cx="761.6" cy="389" r="2.65"/><circle cx="802.8" cy="349.9" r="2.65"/><circle cx="771.5" cy="333.6" r="2.65"/><circle cx="785.6" cy="345.3" r="2.65"/><circle cx="841" cy="366.6" r="2.65"/><circle cx="798.6" cy="400.1" r="2.65"/><circle cx="823.2" cy="323.1" r="2.65"/><circle cx="808" cy="336.5" r="2.65"/><circle cx="770" cy="319.3" r="2.65"/><circle cx="808" cy="317" r="2.65"/><circle cx="863.7" cy="347.4" r="2.65"/><circle cx="808.2" cy="371.7" r="2.65"/><circle cx="848.2" cy="360.3" r="2.65"/><circle cx="806.3" cy="323" r="2.65"/><circle cx="838.4" cy="402" r="2.65"/><circle cx="869.4" cy="322.2" r="2.65"/><circle cx="771.6" cy="377.4" r="2.65"/><circle cx="870.2" cy="364.6" r="2.65"/><circle cx="785.5" cy="375.4" r="2.65"/><circle cx="847.4" cy="333.5" r="2.65"/><circle cx="783.1" cy="352" r="2.65"/><circle cx="822.4" cy="370.8" r="2.65"/><circle cx="801.9" cy="342.5" r="2.65"/><circle cx="774.1" cy="371.2" r="2.65"/><circle cx="817.1" cy="305.9" r="2.65"/><circle cx="781.2" cy="389" r="2.65"/><circle cx="880.8" cy="327.8" r="2.65"/><circle cx="888" cy="329.5" r="2.65"/><circle cx="783.5" cy="328.4" r="2.65"/><circle cx="834.8" cy="360.8" r="2.65"/><circle cx="892.9" cy="371.8" r="2.65"/><circle cx="815.9" cy="293.8" r="2.65"/><circle cx="845.5" cy="353" r="2.65"/><circle cx="820.2" cy="300.5" r="2.65"/><circle cx="770.7" cy="358.5" r="2.65"/><circle cx="835" cy="318.9" r="2.65"/><circle cx="787.5" cy="358.7" r="2.65"/><circle cx="825.3" cy="333.4" r="2.65"/><circle cx="785.4" cy="300.4" r="2.65"/><circle cx="758.8" cy="366.9" r="2.65"/><circle cx="849.3" cy="306.8" r="2.65"/><circle cx="780.2" cy="338.8" r="2.65"/><circle cx="811.5" cy="317.7" r="2.65"/><circle cx="854.4" cy="318.5" r="2.65"/><circle cx="816.7" cy="379" r="2.65"/><circle cx="790.2" cy="384.5" r="2.65"/><circle cx="762" cy="322.5" r="2.65"/><circle cx="856.2" cy="359" r="2.65"/><circle cx="799.1" cy="374.3" r="2.65"/><circle cx="862.7" cy="347.8" r="2.65"/><circle cx="796.6" cy="312.2" r="2.65"/><circle cx="814.7" cy="351.2" r="2.65"/><circle cx="856.7" cy="314.4" r="2.65"/><circle cx="860.5" cy="381.7" r="2.65"/><circle cx="818.3" cy="342.6" r="2.65"/><circle cx="831.4" cy="371.9" r="2.65"/><circle cx="870.5" cy="322.7" r="2.65"/><circle cx="826" cy="388.5" r="2.65"/><circle cx="836.1" cy="339.4" r="2.65"/><circle cx="814.2" cy="346.1" r="2.65"/><circle cx="755.6" cy="370" r="2.65"/><circle cx="833.4" cy="295.7" r="2.65"/><circle cx="877.1" cy="293.3" r="2.65"/><circle cx="858.6" cy="361.4" r="2.65"/><circle cx="776.7" cy="314.5" r="2.65"/><circle cx="816.3" cy="360.3" r="2.65"/><circle cx="841.6" cy="341.6" r="2.65"/><circle cx="870.2" cy="366.6" r="2.65"/><circle cx="849.3" cy="314.7" r="2.65"/><circle cx="861.1" cy="380.6" r="2.65"/><circle cx="852.3" cy="323.3" r="2.65"/><circle cx="763" cy="317.7" r="2.65"/><circle cx="768.7" cy="351.9" r="2.65"/><circle cx="842.4" cy="320.3" r="2.65"/><circle cx="784.5" cy="354.3" r="2.65"/><circle cx="852.4" cy="345.7" r="2.65"/><circle cx="845.8" cy="361.2" r="2.65"/><circle cx="792.7" cy="335.5" r="2.65"/><circle cx="752" cy="313.6" r="2.65"/><circle cx="856.9" cy="300.4" r="2.65"/><circle cx="774" cy="320.2" r="2.65"/><circle cx="797.3" cy="324.4" r="2.65"/><circle cx="769.5" cy="346.8" r="2.65"/><circle cx="757.9" cy="285.7" r="2.65"/><circle cx="843.1" cy="310" r="2.65"/><circle cx="797.3" cy="381.6" r="2.65"/><circle cx="775.1" cy="318.6" r="2.65"/><circle cx="807.3" cy="303" r="2.65"/><circle cx="764.6" cy="294.6" r="2.65"/><circle cx="847.2" cy="325.8" r="2.65"/><circle cx="886.1" cy="303.8" r="2.65"/><circle cx="778.5" cy="335.5" r="2.65"/><circle cx="789" cy="285.7" r="2.65"/><circle cx="839.6" cy="374.4" r="2.65"/><circle cx="754.9" cy="309.9" r="2.65"/><circle cx="769.7" cy="331.9" r="2.65"/><circle cx="879" cy="321.7" r="2.65"/><circle cx="896.9" cy="343.4" r="2.65"/><circle cx="784.5" cy="361.3" r="2.65"/><circle cx="783.3" cy="371.9" r="2.65"/><circle cx="763.6" cy="322.1" r="2.65"/><circle cx="885.2" cy="332.2" r="2.65"/><circle cx="849.3" cy="367" r="2.65"/><circle cx="884.1" cy="308.3" r="2.65"/><circle cx="798.9" cy="324.6" r="2.65"/><circle cx="780.6" cy="295.4" r="2.65"/><circle cx="846" cy="342.7" r="2.65"/><circle cx="809" cy="296.7" r="2.65"/><circle cx="838.7" cy="314.1" r="2.65"/><circle cx="777.1" cy="350.6" r="2.65"/><circle cx="872.8" cy="306.9" r="2.65"/><circle cx="878.2" cy="344.7" r="2.65"/><circle cx="759.2" cy="354.3" r="2.65"/><circle cx="891.1" cy="299.9" r="2.65"/><circle cx="760.1" cy="356.2" r="2.65"/><circle cx="777.5" cy="322" r="2.65"/><circle cx="823.3" cy="322.6" r="2.65"/><circle cx="776.3" cy="390.3" r="2.65"/><circle cx="799.5" cy="389.6" r="2.65"/><circle cx="826.5" cy="352.5" r="2.65"/><circle cx="770.5" cy="306.5" r="2.65"/><circle cx="864.4" cy="350.1" r="2.65"/><circle cx="772.9" cy="387.3" r="2.65"/><circle cx="760.6" cy="350" r="2.65"/><circle cx="828.3" cy="383.8" r="2.65"/><circle cx="853.1" cy="353.3" r="2.65"/><circle cx="803.2" cy="331" r="2.65"/><circle cx="866.1" cy="348.1" r="2.65"/><circle cx="816.4" cy="327.6" r="2.65"/><circle cx="847.2" cy="295.3" r="2.65"/><circle cx="759.1" cy="370.2" r="2.65"/><circle cx="848.5" cy="319" r="2.65"/><circle cx="774.6" cy="311.7" r="2.65"/><circle cx="903.9" cy="316.2" r="2.65"/><circle cx="775" cy="319.9" r="2.65"/><circle cx="885.7" cy="383.2" r="2.65"/><circle cx="827.8" cy="338.4" r="2.65"/><circle cx="815.9" cy="371.3" r="2.65"/><circle cx="889.8" cy="322.7" r="2.65"/><circle cx="855.2" cy="368" r="2.65"/><circle cx="783.1" cy="381.1" r="2.65"/><circle cx="771.3" cy="307.9" r="2.65"/><circle cx="813.6" cy="338.4" r="2.65"/><circle cx="755.9" cy="365.8" r="2.65"/><circle cx="789" cy="384.1" r="2.65"/><circle cx="850.5" cy="333.3" r="2.65"/><circle cx="798.3" cy="317.4" r="2.65"/><circle cx="767.9" cy="353" r="2.65"/><circle cx="898.8" cy="320.1" r="2.65"/><circle cx="792.9" cy="307.5" r="2.65"/><circle cx="814.5" cy="363.5" r="2.65"/><circle cx="791.1" cy="369.1" r="2.65"/><circle cx="876" cy="375.3" r="2.65"/><circle cx="783.7" cy="323.6" r="2.65"/><circle cx="765.5" cy="346.6" r="2.65"/><circle cx="815.9" cy="326" r="2.65"/><circle cx="854.6" cy="338.8" r="2.65"/><circle cx="898.7" cy="357.4" r="2.65"/><circle cx="771.4" cy="302.8" r="2.65"/><circle cx="801.3" cy="351.3" r="2.65"/><circle cx="761.4" cy="337.9" r="2.65"/><circle cx="778.2" cy="358.4" r="2.65"/><circle cx="756.3" cy="348.5" r="2.65"/><circle cx="830.4" cy="380.8" r="2.65"/><circle cx="778.2" cy="295.9" r="2.65"/><circle cx="852.6" cy="328.7" r="2.65"/><circle cx="818.2" cy="321.8" r="2.65"/><circle cx="769.6" cy="278.4" r="2.65"/><circle cx="880.2" cy="306.8" r="2.65"/><circle cx="836.7" cy="382" r="2.65"/><circle cx="798.8" cy="321.9" r="2.65"/><circle cx="769.8" cy="294.2" r="2.65"/><circle cx="817.5" cy="283.6" r="2.65"/><circle cx="790" cy="346.9" r="2.65"/><circle cx="892.3" cy="294.2" r="2.65"/><circle cx="785.6" cy="315.3" r="2.65"/><circle cx="864.8" cy="385.4" r="2.65"/><circle cx="827.8" cy="283.7" r="2.65"/><circle cx="809.1" cy="314" r="2.65"/><circle cx="844.1" cy="390.5" r="2.65"/><circle cx="792.7" cy="361.5" r="2.65"/><circle cx="877.9" cy="362.3" r="2.65"/><circle cx="883.4" cy="304.3" r="2.65"/><circle cx="794.4" cy="365.2" r="2.65"/><circle cx="889.9" cy="376.9" r="2.65"/><circle cx="785.9" cy="333.3" r="2.65"/><circle cx="778.5" cy="396.3" r="2.65"/><circle cx="759.9" cy="325.4" r="2.65"/><circle cx="814.6" cy="368.3" r="2.65"/><circle cx="866.6" cy="347" r="2.65"/><circle cx="782" cy="382.5" r="2.65"/><circle cx="758.9" cy="311.1" r="2.65"/><circle cx="817.4" cy="306.5" r="2.65"/><circle cx="777" cy="410.2" r="2.65"/><circle cx="838.2" cy="354.4" r="2.65"/><circle cx="852.8" cy="317.9" r="2.65"/><circle cx="771.9" cy="378.1" r="2.65"/><circle cx="892.7" cy="333.2" r="2.65"/><circle cx="781.9" cy="348.8" r="2.65"/><circle cx="767" cy="287.9" r="2.65"/><circle cx="759.7" cy="354.3" r="2.65"/><circle cx="887.5" cy="381.3" r="2.65"/><circle cx="790.4" cy="380.3" r="2.65"/><circle cx="808.8" cy="357.4" r="2.65"/><circle cx="789.1" cy="368.7" r="2.65"/><circle cx="856.7" cy="322.9" r="2.65"/><circle cx="802.7" cy="350.7" r="2.65"/><circle cx="865.7" cy="283.5" r="2.65"/><circle cx="868.4" cy="292.1" r="2.65"/><circle cx="893.6" cy="363.8" r="2.65"/><circle cx="773.3" cy="319.9" r="2.65"/><circle cx="898.4" cy="332.6" r="2.65"/><circle cx="753.2" cy="373.8" r="2.65"/><circle cx="858.9" cy="366.3" r="2.65"/><circle cx="853.9" cy="288.6" r="2.65"/><circle cx="816.5" cy="351.3" r="2.65"/><circle cx="786.5" cy="365" r="2.65"/><circle cx="793.1" cy="312.7" r="2.65"/><circle cx="899" cy="379.6" r="2.65"/><circle cx="870.8" cy="350.7" r="2.65"/><circle cx="780.7" cy="362.9" r="2.65"/><circle cx="811" cy="347" r="2.65"/><circle cx="782.1" cy="407.5" r="2.65"/><circle cx="804.2" cy="304.7" r="2.65"/><circle cx="901" cy="329.3" r="2.65"/><circle cx="802.6" cy="369.9" r="2.65"/><circle cx="868.3" cy="364" r="2.65"/><circle cx="757.9" cy="337.5" r="2.65"/><circle cx="792.1" cy="354.6" r="2.65"/><circle cx="817.7" cy="340" r="2.65"/><circle cx="844.4" cy="342.4" r="2.65"/><circle cx="784.1" cy="330.5" r="2.65"/><circle cx="834.4" cy="378.9" r="2.65"/><circle cx="823.1" cy="315.8" r="2.65"/><circle cx="828.2" cy="328.3" r="2.65"/><circle cx="760.2" cy="330" r="2.65"/><circle cx="816.3" cy="379.8" r="2.65"/><circle cx="815.7" cy="376.8" r="2.65"/><circle cx="881.8" cy="304.7" r="2.65"/><circle cx="839.6" cy="322" r="2.65"/><circle cx="807.4" cy="362.4" r="2.65"/><circle cx="782.5" cy="329.6" r="2.65"/><circle cx="760.5" cy="281.5" r="2.65"/><circle cx="789.9" cy="308.3" r="2.65"/><circle cx="781.2" cy="325" r="2.65"/><circle cx="812.5" cy="318.3" r="2.65"/><circle cx="801.9" cy="290.3" r="2.65"/><circle cx="898.6" cy="361" r="2.65"/><circle cx="851.7" cy="384.3" r="2.65"/><circle cx="758.5" cy="283.2" r="2.65"/><circle cx="877.7" cy="361.2" r="2.65"/><circle cx="787.5" cy="303.8" r="2.65"/><circle cx="773.2" cy="316.6" r="2.65"/><circle cx="760.9" cy="404.2" r="2.65"/><circle cx="814.2" cy="354.6" r="2.65"/><circle cx="760.5" cy="285.5" r="2.65"/><circle cx="816.4" cy="331" r="2.65"/><circle cx="899.5" cy="334.7" r="2.65"/><circle cx="783.8" cy="376.5" r="2.65"/><circle cx="765.6" cy="336" r="2.65"/><circle cx="854.4" cy="358.1" r="2.65"/><circle cx="870" cy="355.4" r="2.65"/><circle cx="801.4" cy="333.5" r="2.65"/><circle cx="772.3" cy="385.6" r="2.65"/><circle cx="887.2" cy="336.1" r="2.65"/><circle cx="881.9" cy="330.3" r="2.65"/><circle cx="755.6" cy="359.5" r="2.65"/><circle cx="794.6" cy="376.2" r="2.65"/><circle cx="797" cy="328.7" r="2.65"/><circle cx="770.5" cy="321.7" r="2.65"/><circle cx="788.4" cy="339.8" r="2.65"/><circle cx="775.2" cy="327.4" r="2.65"/><circle cx="842.4" cy="312.1" r="2.65"/><circle cx="837.6" cy="360.8" r="2.65"/><circle cx="796" cy="374.2" r="2.65"/><circle cx="825.4" cy="345.3" r="2.65"/><circle cx="857.6" cy="366.5" r="2.65"/><circle cx="809.5" cy="344.2" r="2.65"/><circle cx="840.1" cy="353.9" r="2.65"/><circle cx="863" cy="342.7" r="2.65"/><circle cx="808.5" cy="364.7" r="2.65"/><circle cx="845.3" cy="323.9" r="2.65"/><circle cx="762.9" cy="323.6" r="2.65"/><circle cx="868.8" cy="303.7" r="2.65"/><circle cx="803.4" cy="333.3" r="2.65"/><circle cx="822.9" cy="369" r="2.65"/><circle cx="853.1" cy="349" r="2.65"/><circle cx="784.3" cy="395.5" r="2.65"/><circle cx="901.6" cy="343.9" r="2.65"/><circle cx="850.8" cy="347.5" r="2.65"/><circle cx="848.5" cy="328.8" r="2.65"/><circle cx="807.9" cy="347.9" r="2.65"/><circle cx="819.7" cy="359.3" r="2.65"/><circle cx="763.1" cy="338.2" r="2.65"/><circle cx="770" cy="364.7" r="2.65"/><circle cx="772.6" cy="329.7" r="2.65"/><circle cx="757.4" cy="341.3" r="2.65"/><circle cx="773.2" cy="350.5" r="2.65"/><circle cx="816.1" cy="382.8" r="2.65"/><circle cx="872" cy="332.6" r="2.65"/><circle cx="781.4" cy="333.2" r="2.65"/><circle cx="888" cy="324.4" r="2.65"/><circle cx="801.6" cy="316.6" r="2.65"/><circle cx="893.3" cy="295.7" r="2.65"/><circle cx="772.9" cy="311.7" r="2.65"/><circle cx="900.6" cy="350" r="2.65"/><circle cx="761.9" cy="323" r="2.65"/><circle cx="786.9" cy="380.1" r="2.65"/><circle cx="769.2" cy="357.9" r="2.65"/><circle cx="792.9" cy="396.7" r="2.65"/><circle cx="850.2" cy="331.8" r="2.65"/><circle cx="860.7" cy="303.3" r="2.65"/><circle cx="817.1" cy="344.2" r="2.65"/><circle cx="769.7" cy="362.1" r="2.65"/><circle cx="774.3" cy="320.8" r="2.65"/><circle cx="868.3" cy="352" r="2.65"/><circle cx="883.5" cy="304.9" r="2.65"/><circle cx="768.4" cy="386.7" r="2.65"/><circle cx="849.1" cy="292.5" r="2.65"/><circle cx="817.1" cy="346.7" r="2.65"/><circle cx="766.1" cy="350.4" r="2.65"/><circle cx="875.4" cy="316.3" r="2.65"/><circle cx="857.3" cy="329.7" r="2.65"/><circle cx="804.6" cy="372.5" r="2.65"/><circle cx="842.7" cy="292.2" r="2.65"/><circle cx="782" cy="364.1" r="2.65"/><circle cx="813.4" cy="331.9" r="2.65"/><circle cx="896.1" cy="311.1" r="2.65"/><circle cx="860.9" cy="317.8" r="2.65"/><circle cx="837" cy="329" r="2.65"/><circle cx="859.9" cy="343.6" r="2.65"/><circle cx="776.3" cy="351.7" r="2.65"/><circle cx="821.2" cy="353.4" r="2.65"/><circle cx="825.3" cy="328" r="2.65"/><circle cx="788.3" cy="319.2" r="2.65"/><circle cx="820.6" cy="324.1" r="2.65"/><circle cx="836.2" cy="334.8" r="2.65"/><circle cx="813.9" cy="333.5" r="2.65"/><circle cx="858.9" cy="343" r="2.65"/><circle cx="762" cy="360.8" r="2.65"/><circle cx="802.2" cy="299.5" r="2.65"/><circle cx="764.4" cy="401.6" r="2.65"/><circle cx="808" cy="338.2" r="2.65"/><circle cx="752.9" cy="335.9" r="2.65"/><circle cx="752.2" cy="395.6" r="2.65"/><circle cx="756.7" cy="331.7" r="2.65"/><circle cx="784.5" cy="337.3" r="2.65"/><circle cx="765.6" cy="373.1" r="2.65"/><circle cx="772.1" cy="323" r="2.65"/><circle cx="850.2" cy="343" r="2.65"/><circle cx="830.9" cy="286.9" r="2.65"/><circle cx="838.1" cy="342.3" r="2.65"/><circle cx="758.8" cy="362.2" r="2.65"/><circle cx="884.6" cy="324.6" r="2.65"/><circle cx="795.5" cy="317.8" r="2.65"/><circle cx="826" cy="293.5" r="2.65"/><circle cx="779.4" cy="371.8" r="2.65"/><circle cx="779.2" cy="314.6" r="2.65"/><circle cx="891.5" cy="312.1" r="2.65"/><circle cx="773.3" cy="344.7" r="2.65"/><circle cx="823.2" cy="354.4" r="2.65"/><circle cx="777.6" cy="327.5" r="2.65"/><circle cx="811.1" cy="328.6" r="2.65"/><circle cx="875.3" cy="331.5" r="2.65"/><circle cx="755.9" cy="385.7" r="2.65"/><circle cx="851.3" cy="325.8" r="2.65"/><circle cx="775.1" cy="307" r="2.65"/><circle cx="772.6" cy="335.6" r="2.65"/><circle cx="762.5" cy="345.8" r="2.65"/><circle cx="807.8" cy="313.2" r="2.65"/><circle cx="773" cy="336.2" r="2.65"/><circle cx="833.5" cy="366.5" r="2.65"/><circle cx="876.9" cy="352.1" r="2.65"/><circle cx="844.7" cy="394.5" r="2.65"/><circle cx="878.8" cy="329.2" r="2.65"/><circle cx="824.9" cy="367.1" r="2.65"/><circle cx="880.3" cy="360.6" r="2.65"/><circle cx="767" cy="331" r="2.65"/><circle cx="785.7" cy="322.5" r="2.65"/><circle cx="885.1" cy="355.3" r="2.65"/><circle cx="785.9" cy="340" r="2.65"/><circle cx="897.6" cy="345.9" r="2.65"/><circle cx="777.8" cy="341.6" r="2.65"/><circle cx="887.2" cy="327" r="2.65"/><circle cx="784.4" cy="310.6" r="2.65"/><circle cx="816.8" cy="329.4" r="2.65"/><circle cx="783.8" cy="386.8" r="2.65"/><circle cx="886.3" cy="355.3" r="2.65"/><circle cx="778.5" cy="313.1" r="2.65"/><circle cx="819" cy="288.5" r="2.65"/><circle cx="800.6" cy="318.1" r="2.65"/><circle cx="782.7" cy="374.5" r="2.65"/><circle cx="773.1" cy="371.8" r="2.65"/><circle cx="762.8" cy="408.4" r="2.65"/><circle cx="796.6" cy="316.6" r="2.65"/><circle cx="778.6" cy="291.9" r="2.65"/><circle cx="821.6" cy="314.2" r="2.65"/><circle cx="769.7" cy="318.3" r="2.65"/><circle cx="763.5" cy="311.3" r="2.65"/><circle cx="787.8" cy="321.4" r="2.65"/><circle cx="809" cy="336.6" r="2.65"/><circle cx="808.4" cy="323" r="2.65"/><circle cx="769.7" cy="357.7" r="2.65"/><circle cx="813.1" cy="372.2" r="2.65"/><circle cx="793.3" cy="330.3" r="2.65"/><circle cx="817.2" cy="341.7" r="2.65"/><circle cx="810.3" cy="310.2" r="2.65"/><circle cx="771.5" cy="393" r="2.65"/><circle cx="763.6" cy="394.5" r="2.65"/><circle cx="779.7" cy="338.8" r="2.65"/><circle cx="816.6" cy="389.3" r="2.65"/><circle cx="898.8" cy="277.2" r="2.65"/><circle cx="793.8" cy="311.4" r="2.65"/><circle cx="850.1" cy="342.5" r="2.65"/><circle cx="905" cy="358.4" r="2.65"/><circle cx="760.1" cy="364.3" r="2.65"/><circle cx="761.1" cy="317.8" r="2.65"/><circle cx="836.2" cy="290.8" r="2.65"/><circle cx="774.2" cy="386.4" r="2.65"/><circle cx="887.1" cy="318.9" r="2.65"/><circle cx="843.3" cy="336.7" r="2.65"/><circle cx="842.2" cy="281.9" r="2.65"/><circle cx="772.1" cy="362.1" r="2.65"/><circle cx="823.5" cy="308.9" r="2.65"/><circle cx="868.1" cy="308.8" r="2.65"/><circle cx="766" cy="362.5" r="2.65"/><circle cx="859.9" cy="361.8" r="2.65"/><circle cx="769.1" cy="394.7" r="2.65"/><circle cx="802.1" cy="305.9" r="2.65"/><circle cx="786" cy="326.8" r="2.65"/><circle cx="854" cy="356.9" r="2.65"/><circle cx="885.1" cy="357.1" r="2.65"/><circle cx="824.8" cy="351.1" r="2.65"/><circle cx="774.8" cy="305.7" r="2.65"/><circle cx="789.9" cy="322.9" r="2.65"/><circle cx="834.1" cy="367.9" r="2.65"/><circle cx="835.9" cy="332.8" r="2.65"/><circle cx="814.1" cy="327" r="2.65"/><circle cx="865.4" cy="317.1" r="2.65"/><circle cx="868.5" cy="292" r="2.65"/><circle cx="808.7" cy="334.7" r="2.65"/><circle cx="779.9" cy="301.2" r="2.65"/><circle cx="819.5" cy="358.4" r="2.65"/><circle cx="773" cy="385.4" r="2.65"/><circle cx="804.5" cy="341.5" r="2.65"/><circle cx="862.2" cy="373" r="2.65"/><circle cx="751.9" cy="336.3" r="2.65"/><circle cx="858.1" cy="324.3" r="2.65"/><circle cx="783.3" cy="336.5" r="2.65"/><circle cx="870.3" cy="328.2" r="2.65"/><circle cx="788.8" cy="290.6" r="2.65"/><circle cx="816" cy="323.7" r="2.65"/><circle cx="752.4" cy="311" r="2.65"/><circle cx="868.9" cy="348.4" r="2.65"/><circle cx="777.2" cy="359" r="2.65"/><circle cx="851.3" cy="313.2" r="2.65"/><circle cx="904.4" cy="306.1" r="2.65"/><circle cx="870.8" cy="371.4" r="2.65"/><circle cx="822.3" cy="288.3" r="2.65"/><circle cx="757.7" cy="397.8" r="2.65"/><circle cx="867.2" cy="361.3" r="2.65"/><circle cx="897.3" cy="297.6" r="2.65"/><circle cx="784.6" cy="326.7" r="2.65"/><circle cx="761.6" cy="399.9" r="2.65"/><circle cx="796.3" cy="376.7" r="2.65"/><circle cx="867.8" cy="278.5" r="2.65"/><circle cx="780.2" cy="308.3" r="2.65"/><circle cx="874.3" cy="363.6" r="2.65"/><circle cx="885.2" cy="337.3" r="2.65"/><circle cx="850.9" cy="377.6" r="2.65"/><circle cx="792.6" cy="321.6" r="2.65"/><circle cx="875.1" cy="292.2" r="2.65"/><circle cx="833.9" cy="346.3" r="2.65"/><circle cx="807.2" cy="402.3" r="2.65"/><circle cx="875.5" cy="364.9" r="2.65"/><circle cx="769.2" cy="345.9" r="2.65"/><circle cx="865.8" cy="373.9" r="2.65"/><circle cx="773.7" cy="339.9" r="2.65"/><circle cx="774.2" cy="336.1" r="2.65"/><circle cx="790.7" cy="311.8" r="2.65"/><circle cx="879.9" cy="332.5" r="2.65"/><circle cx="801.8" cy="370.9" r="2.65"/><circle cx="813.2" cy="361.2" r="2.65"/><circle cx="852.6" cy="316.9" r="2.65"/><circle cx="772.4" cy="378" r="2.65"/><circle cx="774.5" cy="339.8" r="2.65"/><circle cx="814.1" cy="315" r="2.65"/><circle cx="833.9" cy="349.6" r="2.65"/><circle cx="835.3" cy="328.1" r="2.65"/><circle cx="869.2" cy="308.1" r="2.65"/><circle cx="823.1" cy="302.2" r="2.65"/><circle cx="829" cy="297.5" r="2.65"/><circle cx="885.8" cy="354.5" r="2.65"/><circle cx="807" cy="346.9" r="2.65"/><circle cx="768.8" cy="392.9" r="2.65"/><circle cx="853.6" cy="384.1" r="2.65"/><circle cx="753" cy="371.7" r="2.65"/><circle cx="829.8" cy="342.7" r="2.65"/><circle cx="862.4" cy="339.6" r="2.65"/><circle cx="759.7" cy="376.9" r="2.65"/><circle cx="759.1" cy="326.4" r="2.65"/><circle cx="817.1" cy="361.7" r="2.65"/><circle cx="824.1" cy="330.3" r="2.65"/><circle cx="822.3" cy="318.3" r="2.65"/><circle cx="786.5" cy="386.3" r="2.65"/><circle cx="751.9" cy="317.7" r="2.65"/><circle cx="775.8" cy="374.3" r="2.65"/><circle cx="853.9" cy="322.6" r="2.65"/><circle cx="898" cy="353.2" r="2.65"/><circle cx="773.8" cy="349.4" r="2.65"/><circle cx="798.9" cy="347.4" r="2.65"/><circle cx="819.5" cy="333.3" r="2.65"/><circle cx="865.7" cy="308" r="2.65"/><circle cx="789.8" cy="379.3" r="2.65"/><circle cx="810.9" cy="316" r="2.65"/><circle cx="781.5" cy="405" r="2.65"/><circle cx="758" cy="353.8" r="2.65"/><circle cx="790.3" cy="283.8" r="2.65"/><circle cx="769.9" cy="366.2" r="2.65"/><circle cx="856.8" cy="367.3" r="2.65"/><circle cx="869.8" cy="330.2" r="2.65"/><circle cx="842.1" cy="331.8" r="2.65"/><circle cx="800.4" cy="315.3" r="2.65"/><circle cx="805.4" cy="318.7" r="2.65"/><circle cx="895.8" cy="337.3" r="2.65"/><circle cx="775.9" cy="338.7" r="2.65"/><circle cx="891.9" cy="337.5" r="2.65"/><circle cx="876.6" cy="377.5" r="2.65"/><circle cx="798" cy="361.9" r="2.65"/><circle cx="799.4" cy="372.2" r="2.65"/><circle cx="777.1" cy="382.1" r="2.65"/><circle cx="863.1" cy="345.9" r="2.65"/><circle cx="783.1" cy="378.6" r="2.65"/><circle cx="763" cy="374.7" r="2.65"/><circle cx="888" cy="318.6" r="2.65"/><circle cx="758.8" cy="341.3" r="2.65"/><circle cx="844.2" cy="378.7" r="2.65"/><circle cx="831" cy="380" r="2.65"/><circle cx="794.6" cy="296.6" r="2.65"/><circle cx="768.2" cy="359.2" r="2.65"/><circle cx="786.2" cy="380.5" r="2.65"/><circle cx="817.4" cy="359.4" r="2.65"/><circle cx="840.6" cy="327.9" r="2.65"/><circle cx="837.7" cy="342.2" r="2.65"/><circle cx="828.1" cy="404" r="2.65"/><circle cx="814.6" cy="357.3" r="2.65"/><circle cx="813.4" cy="337.7" r="2.65"/><circle cx="805.7" cy="382.8" r="2.65"/><circle cx="862.1" cy="295" r="2.65"/><circle cx="843" cy="349.9" r="2.65"/><circle cx="770" cy="387" r="2.65"/><circle cx="792.9" cy="345.5" r="2.65"/><circle cx="802.2" cy="338" r="2.65"/><circle cx="900.6" cy="339" r="2.65"/><circle cx="844.5" cy="333" r="2.65"/><circle cx="850" cy="405.3" r="2.65"/><circle cx="827.5" cy="343.3" r="2.65"/><circle cx="805.8" cy="313.5" r="2.65"/><circle cx="844.4" cy="398.9" r="2.65"/><circle cx="768.9" cy="295.5" r="2.65"/><circle cx="844.3" cy="336.9" r="2.65"/><circle cx="848.9" cy="337.7" r="2.65"/><circle cx="759.3" cy="388.5" r="2.65"/><circle cx="771.7" cy="283.1" r="2.65"/><circle cx="827.8" cy="333.4" r="2.65"/><circle cx="885.4" cy="355.9" r="2.65"/><circle cx="892.7" cy="329.2" r="2.65"/><circle cx="762.6" cy="314.5" r="2.65"/><circle cx="793" cy="347.7" r="2.65"/><circle cx="790.1" cy="388.2" r="2.65"/><circle cx="830.5" cy="340.3" r="2.65"/><circle cx="785" cy="341.7" r="2.65"/><circle cx="809.6" cy="343.5" r="2.65"/><circle cx="773.5" cy="369.3" r="2.65"/><circle cx="778.7" cy="386.2" r="2.65"/><circle cx="760.2" cy="368.6" r="2.65"/><circle cx="830.7" cy="298.2" r="2.65"/><circle cx="868.6" cy="352.6" r="2.65"/><circle cx="766" cy="318.9" r="2.65"/><circle cx="767.8" cy="375" r="2.65"/><circle cx="763.8" cy="382.5" r="2.65"/><circle cx="778.2" cy="307.3" r="2.65"/><circle cx="798.6" cy="388.1" r="2.65"/><circle cx="788.5" cy="351.2" r="2.65"/><circle cx="770.1" cy="364.4" r="2.65"/><circle cx="785.8" cy="385.7" r="2.65"/><circle cx="787.6" cy="294.3" r="2.65"/><circle cx="873.1" cy="326.5" r="2.65"/><circle cx="775.9" cy="387.6" r="2.65"/><circle cx="765.4" cy="334.6" r="2.65"/><circle cx="811.2" cy="318.4" r="2.65"/><circle cx="772.1" cy="393.3" r="2.65"/><circle cx="778.7" cy="365.9" r="2.65"/><circle cx="773.2" cy="291.8" r="2.65"/><circle cx="821.1" cy="286.3" r="2.65"/><circle cx="898.6" cy="284.8" r="2.65"/><circle cx="858.5" cy="397.3" r="2.65"/><circle cx="759.6" cy="375.9" r="2.65"/><circle cx="858" cy="371.1" r="2.65"/><circle cx="756.6" cy="357.5" r="2.65"/><circle cx="784.3" cy="358.6" r="2.65"/><circle cx="802.6" cy="406.2" r="2.65"/><circle cx="843.7" cy="289.2" r="2.65"/><circle cx="840.3" cy="323.5" r="2.65"/><circle cx="784.6" cy="321.4" r="2.65"/><circle cx="881.6" cy="359.6" r="2.65"/><circle cx="812.4" cy="386.4" r="2.65"/><circle cx="788.3" cy="297.1" r="2.65"/><circle cx="781.1" cy="411.2" r="2.65"/><circle cx="784.5" cy="387.2" r="2.65"/><circle cx="765.2" cy="334.4" r="2.65"/><circle cx="814" cy="318.7" r="2.65"/><circle cx="785.1" cy="326.3" r="2.65"/><circle cx="878.5" cy="278.6" r="2.65"/><circle cx="821.1" cy="338.9" r="2.65"/><circle cx="904.4" cy="308.2" r="2.65"/><circle cx="802.3" cy="375.1" r="2.65"/><circle cx="782.1" cy="328.7" r="2.65"/><circle cx="753.5" cy="354.7" r="2.65"/><circle cx="760.8" cy="365.5" r="2.65"/><circle cx="868.9" cy="350.3" r="2.65"/><circle cx="781.1" cy="353.5" r="2.65"/><circle cx="777.4" cy="328.5" r="2.65"/><circle cx="811.7" cy="316.1" r="2.65"/><circle cx="879.9" cy="314.7" r="2.65"/><circle cx="775.4" cy="318.3" r="2.65"/><circle cx="875.1" cy="337.8" r="2.65"/><circle cx="802.8" cy="411.1" r="2.65"/><circle cx="777.4" cy="323.7" r="2.65"/><circle cx="811.6" cy="315.2" r="2.65"/><circle cx="777.5" cy="377.5" r="2.65"/><circle cx="826.3" cy="312.6" r="2.65"/><circle cx="839.9" cy="306.5" r="2.65"/><circle cx="867.5" cy="311.6" r="2.65"/><circle cx="852.3" cy="361.9" r="2.65"/><circle cx="754.3" cy="324.2" r="2.65"/><circle cx="761.8" cy="360.5" r="2.65"/><circle cx="779" cy="352.2" r="2.65"/><circle cx="864.5" cy="330.6" r="2.65"/><circle cx="760.4" cy="346.9" r="2.65"/><circle cx="880.8" cy="372.3" r="2.65"/><circle cx="834.5" cy="313.5" r="2.65"/><circle cx="793" cy="367.8" r="2.65"/><circle cx="754" cy="320.7" r="2.65"/><circle cx="864.6" cy="340.1" r="2.65"/><circle cx="826.2" cy="298.8" r="2.65"/><circle cx="757.1" cy="356.3" r="2.65"/><circle cx="811.2" cy="316.5" r="2.65"/><circle cx="789.7" cy="352.7" r="2.65"/><circle cx="782.3" cy="332.5" r="2.65"/><circle cx="786.5" cy="330.6" r="2.65"/><circle cx="811.5" cy="370.4" r="2.65"/><circle cx="784.8" cy="398.6" r="2.65"/><circle cx="887.2" cy="304" r="2.65"/><circle cx="763.2" cy="362.9" r="2.65"/><circle cx="880.7" cy="327.5" r="2.65"/><circle cx="818.7" cy="318.5" r="2.65"/><circle cx="834.6" cy="376.9" r="2.65"/><circle cx="773.9" cy="336.8" r="2.65"/><circle cx="824" cy="350.9" r="2.65"/><circle cx="840.3" cy="316.6" r="2.65"/><circle cx="841.7" cy="318.7" r="2.65"/><circle cx="879.7" cy="336.8" r="2.65"/><circle cx="781.5" cy="301.3" r="2.65"/><circle cx="841.9" cy="297" r="2.65"/><circle cx="873.5" cy="306.6" r="2.65"/><circle cx="826.8" cy="346.7" r="2.65"/><circle cx="783.2" cy="355.9" r="2.65"/><circle cx="864.4" cy="311.3" r="2.65"/><circle cx="760.6" cy="360.9" r="2.65"/><circle cx="823.7" cy="373.5" r="2.65"/><circle cx="786.1" cy="403.6" r="2.65"/><circle cx="785.1" cy="355.3" r="2.65"/><circle cx="784.4" cy="347.7" r="2.65"/><circle cx="786.3" cy="390.4" r="2.65"/><circle cx="855.8" cy="316.9" r="2.65"/><circle cx="885.7" cy="386.1" r="2.65"/><circle cx="885.5" cy="337.7" r="2.65"/><circle cx="856.5" cy="327" r="2.65"/><circle cx="807" cy="290.8" r="2.65"/><circle cx="834.5" cy="354.1" r="2.65"/><circle cx="761.1" cy="331.2" r="2.65"/><circle cx="904.2" cy="369.6" r="2.65"/><circle cx="765.7" cy="316.8" r="2.65"/><circle cx="889.9" cy="387.7" r="2.65"/><circle cx="844.3" cy="357.4" r="2.65"/><circle cx="882.2" cy="343.4" r="2.65"/><circle cx="753.1" cy="330.8" r="2.65"/><circle cx="824.1" cy="323" r="2.65"/><circle cx="790.9" cy="353.6" r="2.65"/><circle cx="824.2" cy="388.2" r="2.65"/><circle cx="759.7" cy="391.5" r="2.65"/><circle cx="831.1" cy="352.9" r="2.65"/><circle cx="879.6" cy="322.4" r="2.65"/><circle cx="830.5" cy="332.2" r="2.65"/><circle cx="781.5" cy="307.5" r="2.65"/><circle cx="846.7" cy="344.1" r="2.65"/><circle cx="820.4" cy="344.6" r="2.65"/><circle cx="824.5" cy="348" r="2.65"/><circle cx="784.4" cy="350.1" r="2.65"/><circle cx="887.8" cy="343.3" r="2.65"/><circle cx="852.4" cy="366.9" r="2.65"/><circle cx="846.6" cy="331.2" r="2.65"/><circle cx="825.5" cy="378.2" r="2.65"/><circle cx="773.6" cy="371.5" r="2.65"/><circle cx="789.8" cy="300.2" r="2.65"/><circle cx="848.1" cy="383.2" r="2.65"/><circle cx="850.2" cy="350.2" r="2.65"/><circle cx="793.3" cy="355.9" r="2.65"/><circle cx="751.8" cy="376.6" r="2.65"/><circle cx="851.6" cy="317" r="2.65"/><circle cx="773.9" cy="372" r="2.65"/><circle cx="771.9" cy="336.4" r="2.65"/><circle cx="869.5" cy="327.2" r="2.65"/><circle cx="812.5" cy="345.9" r="2.65"/><circle cx="890.5" cy="357.7" r="2.65"/><circle cx="817.3" cy="330.2" r="2.65"/><circle cx="759.2" cy="340" r="2.65"/><circle cx="878.9" cy="321.9" r="2.65"/><circle cx="904.8" cy="349.7" r="2.65"/><circle cx="780.9" cy="360.4" r="2.65"/><circle cx="860.8" cy="314.1" r="2.65"/><circle cx="817" cy="379" r="2.65"/><circle cx="782.7" cy="340.7" r="2.65"/><circle cx="890.7" cy="349.6" r="2.65"/><circle cx="834.3" cy="334.6" r="2.65"/><circle cx="882.8" cy="342.5" r="2.65"/><circle cx="814.3" cy="349.1" r="2.65"/><circle cx="882.6" cy="362.2" r="2.65"/><circle cx="898.5" cy="323.2" r="2.65"/><circle cx="759" cy="316.7" r="2.65"/><circle cx="843.8" cy="349.2" r="2.65"/><circle cx="861.4" cy="292" r="2.65"/><circle cx="843" cy="339" r="2.65"/><circle cx="863" cy="359.1" r="2.65"/><circle cx="762.9" cy="309.5" r="2.65"/><circle cx="886.1" cy="292.2" r="2.65"/><circle cx="840.1" cy="367.9" r="2.65"/><circle cx="806.7" cy="353.8" r="2.65"/><circle cx="768.4" cy="355.4" r="2.65"/><circle cx="814.6" cy="301.6" r="2.65"/><circle cx="794.8" cy="297.6" r="2.65"/><circle cx="807.3" cy="329.2" r="2.65"/><circle cx="865" cy="327" r="2.65"/><circle cx="787" cy="369.7" r="2.65"/><circle cx="832.3" cy="399.2" r="2.65"/><circle cx="869.5" cy="337.7" r="2.65"/><circle cx="765.1" cy="326.7" r="2.65"/><circle cx="877.1" cy="308.8" r="2.65"/><circle cx="840.7" cy="355.2" r="2.65"/><circle cx="830.5" cy="342.9" r="2.65"/><circle cx="815.4" cy="365.9" r="2.65"/><circle cx="770.1" cy="342.4" r="2.65"/><circle cx="825.2" cy="349.7" r="2.65"/><circle cx="812" cy="333.4" r="2.65"/><circle cx="772.8" cy="324.1" r="2.65"/><circle cx="855.2" cy="379.1" r="2.65"/><circle cx="895.4" cy="288.5" r="2.65"/><circle cx="760.3" cy="344.8" r="2.65"/><circle cx="758.4" cy="367.2" r="2.65"/><circle cx="761.9" cy="380" r="2.65"/><circle cx="903" cy="362.6" r="2.65"/><circle cx="785.2" cy="304.5" r="2.65"/><circle cx="784.4" cy="310.8" r="2.65"/><circle cx="755.9" cy="387.3" r="2.65"/><circle cx="868.4" cy="349.1" r="2.65"/><circle cx="816.9" cy="380.2" r="2.65"/><circle cx="784.4" cy="311.4" r="2.65"/><circle cx="789.7" cy="291.3" r="2.65"/><circle cx="797.3" cy="387.1" r="2.65"/><circle cx="765.6" cy="350.4" r="2.65"/><circle cx="829.9" cy="286.9" r="2.65"/><circle cx="795.1" cy="372" r="2.65"/><circle cx="868.1" cy="322.2" r="2.65"/><circle cx="825.1" cy="318.7" r="2.65"/><circle cx="820.4" cy="355.3" r="2.65"/><circle cx="834.1" cy="343.6" r="2.65"/><circle cx="805.6" cy="366.1" r="2.65"/><circle cx="820.5" cy="369.9" r="2.65"/><circle cx="771.2" cy="378.1" r="2.65"/><circle cx="804" cy="373.7" r="2.65"/><circle cx="870.1" cy="376.3" r="2.65"/><circle cx="806.9" cy="382" r="2.65"/><circle cx="755.9" cy="381.5" r="2.65"/><circle cx="784.6" cy="336.9" r="2.65"/><circle cx="782.8" cy="309.3" r="2.65"/><circle cx="852.2" cy="367.6" r="2.65"/><circle cx="885.9" cy="315.7" r="2.65"/><circle cx="846.7" cy="306.1" r="2.65"/><circle cx="772.2" cy="358.3" r="2.65"/><circle cx="836.9" cy="292.7" r="2.65"/><circle cx="857" cy="375.4" r="2.65"/><circle cx="841" cy="359.4" r="2.65"/><circle cx="766.5" cy="361" r="2.65"/><circle cx="754.6" cy="340.7" r="2.65"/><circle cx="868.6" cy="355.3" r="2.65"/><circle cx="767.7" cy="327.7" r="2.65"/><circle cx="878" cy="341.4" r="2.65"/><circle cx="802.3" cy="342.1" r="2.65"/><circle cx="779.7" cy="350.4" r="2.65"/><circle cx="770" cy="334.8" r="2.65"/><circle cx="844.3" cy="328.8" r="2.65"/><circle cx="852.5" cy="306.3" r="2.65"/><circle cx="850.4" cy="345.3" r="2.65"/><circle cx="793.6" cy="371.4" r="2.65"/><circle cx="851.2" cy="317" r="2.65"/><circle cx="825.4" cy="334.8" r="2.65"/><circle cx="854.2" cy="405.6" r="2.65"/><circle cx="769.9" cy="402.6" r="2.65"/><circle cx="900.6" cy="312.1" r="2.65"/><circle cx="881.2" cy="362.2" r="2.65"/><circle cx="894.5" cy="338.6" r="2.65"/><circle cx="790.6" cy="354.3" r="2.65"/><circle cx="800.4" cy="350.2" r="2.65"/><circle cx="820.4" cy="385.4" r="2.65"/><circle cx="806.7" cy="317.1" r="2.65"/><circle cx="847.9" cy="302.2" r="2.65"/><circle cx="825.7" cy="369.1" r="2.65"/><circle cx="886.7" cy="354.6" r="2.65"/><circle cx="816.1" cy="331.8" r="2.65"/><circle cx="825.1" cy="285.6" r="2.65"/><circle cx="779" cy="334.1" r="2.65"/><circle cx="850.8" cy="333.7" r="2.65"/><circle cx="876.4" cy="325.4" r="2.65"/><circle cx="809.3" cy="364" r="2.65"/><circle cx="775.1" cy="326" r="2.65"/><circle cx="886" cy="307" r="2.65"/><circle cx="848" cy="301.8" r="2.65"/><circle cx="782.1" cy="352.5" r="2.65"/><circle cx="778.5" cy="333.7" r="2.65"/><circle cx="757.9" cy="368.1" r="2.65"/><circle cx="822.3" cy="339.9" r="2.65"/><circle cx="760.9" cy="346.2" r="2.65"/><circle cx="847.1" cy="300.4" r="2.65"/><circle cx="904.7" cy="342.4" r="2.65"/><circle cx="790.6" cy="301" r="2.65"/><circle cx="802.3" cy="316.7" r="2.65"/><circle cx="766.9" cy="343.7" r="2.65"/><circle cx="846.1" cy="358.2" r="2.65"/><circle cx="763" cy="363.4" r="2.65"/><circle cx="810.3" cy="402" r="2.65"/><circle cx="855.7" cy="334.5" r="2.65"/><circle cx="863.2" cy="349.7" r="2.65"/><circle cx="754.3" cy="314.5" r="2.65"/><circle cx="793.1" cy="331.7" r="2.65"/><circle cx="861.3" cy="299.3" r="2.65"/><circle cx="872.1" cy="319.9" r="2.65"/><circle cx="802.4" cy="376" r="2.65"/><circle cx="835.8" cy="352.2" r="2.65"/><circle cx="756.8" cy="282.7" r="2.65"/><circle cx="806.9" cy="396" r="2.65"/><circle cx="771.6" cy="325.7" r="2.65"/><circle cx="859.1" cy="341.1" r="2.65"/><circle cx="786.2" cy="323.6" r="2.65"/><circle cx="841.8" cy="376.1" r="2.65"/><circle cx="800.6" cy="282.7" r="2.65"/><circle cx="888.6" cy="352.9" r="2.65"/><circle cx="809.9" cy="322.7" r="2.65"/><circle cx="798.5" cy="296" r="2.65"/><circle cx="806.7" cy="357.9" r="2.65"/><circle cx="812.5" cy="355.5" r="2.65"/><circle cx="752.4" cy="286.6" r="2.65"/><circle cx="794.2" cy="323.7" r="2.65"/><circle cx="777.8" cy="320.2" r="2.65"/><circle cx="899.2" cy="308.2" r="2.65"/><circle cx="770.8" cy="280.9" r="2.65"/><circle cx="856.6" cy="351.4" r="2.65"/><circle cx="816.9" cy="317.4" r="2.65"/><circle cx="776.8" cy="310.8" r="2.65"/><circle cx="823.7" cy="347.7" r="2.65"/><circle cx="752.8" cy="370" r="2.65"/><circle cx="844.5" cy="311.3" r="2.65"/><circle cx="844.2" cy="339.1" r="2.65"/><circle cx="901.4" cy="345.4" r="2.65"/><circle cx="894.6" cy="316.8" r="2.65"/><circle cx="831.9" cy="383.4" r="2.65"/><circle cx="765.3" cy="310.5" r="2.65"/><circle cx="764.2" cy="359.3" r="2.65"/><circle cx="792.4" cy="338" r="2.65"/><circle cx="802" cy="330" r="2.65"/><circle cx="868" cy="380" r="2.65"/><circle cx="851.1" cy="285.3" r="2.65"/><circle cx="790.6" cy="366.9" r="2.65"/><circle cx="774.2" cy="364.7" r="2.65"/><circle cx="863" cy="320" r="2.65"/><circle cx="752.4" cy="331.8" r="2.65"/><circle cx="795.7" cy="369.1" r="2.65"/><circle cx="875.2" cy="368.2" r="2.65"/><circle cx="791.9" cy="332.5" r="2.65"/><circle cx="754.6" cy="366.5" r="2.65"/><circle cx="838.4" cy="350.5" r="2.65"/><circle cx="788.6" cy="340.9" r="2.65"/><circle cx="799.8" cy="323.1" r="2.65"/><circle cx="779" cy="368.9" r="2.65"/><circle cx="754.3" cy="350.9" r="2.65"/><circle cx="779.9" cy="311.4" r="2.65"/><circle cx="779.2" cy="307.9" r="2.65"/><circle cx="876.2" cy="331.8" r="2.65"/><circle cx="754.6" cy="391.8" r="2.65"/><circle cx="862" cy="307" r="2.65"/><circle cx="850.6" cy="320.3" r="2.65"/><circle cx="841.9" cy="360.8" r="2.65"/><circle cx="834.8" cy="315.4" r="2.65"/><circle cx="755.5" cy="317.3" r="2.65"/><circle cx="803.4" cy="323.3" r="2.65"/><circle cx="844.3" cy="290.7" r="2.65"/><circle cx="808.4" cy="354.4" r="2.65"/><circle cx="846.2" cy="292.1" r="2.65"/><circle cx="820.4" cy="361.9" r="2.65"/><circle cx="780.8" cy="334.2" r="2.65"/><circle cx="857.6" cy="373.8" r="2.65"/><circle cx="819.3" cy="320.9" r="2.65"/><circle cx="792.6" cy="339.5" r="2.65"/><circle cx="889.5" cy="330.3" r="2.65"/><circle cx="752.3" cy="362.7" r="2.65"/><circle cx="819.4" cy="365" r="2.65"/><circle cx="894.9" cy="304.8" r="2.65"/><circle cx="799.4" cy="361.2" r="2.65"/><circle cx="777.6" cy="325.3" r="2.65"/><circle cx="793.3" cy="331.8" r="2.65"/><circle cx="848.3" cy="309.6" r="2.65"/><circle cx="836.9" cy="376.9" r="2.65"/><circle cx="782.3" cy="410" r="2.65"/><circle cx="888.1" cy="346.2" r="2.65"/><circle cx="802" cy="370.4" r="2.65"/><circle cx="826.1" cy="317.9" r="2.65"/><circle cx="788.4" cy="325.4" r="2.65"/><circle cx="862.4" cy="337" r="2.65"/><circle cx="771.2" cy="328.8" r="2.65"/><circle cx="864.6" cy="355.4" r="2.65"/><circle cx="814.8" cy="317.3" r="2.65"/><circle cx="791.3" cy="345.1" r="2.65"/><circle cx="854.1" cy="323" r="2.65"/><circle cx="828.4" cy="315.4" r="2.65"/><circle cx="845.9" cy="312.9" r="2.65"/><circle cx="801.7" cy="366.1" r="2.65"/><circle cx="763.7" cy="390.5" r="2.65"/><circle cx="781.6" cy="298.4" r="2.65"/><circle cx="800.5" cy="361.9" r="2.65"/><circle cx="776.7" cy="373.4" r="2.65"/><circle cx="872" cy="289.1" r="2.65"/><circle cx="896.6" cy="364.1" r="2.65"/><circle cx="754.9" cy="283.2" r="2.65"/><circle cx="823.3" cy="370.2" r="2.65"/><circle cx="762.9" cy="345.8" r="2.65"/><circle cx="830.1" cy="394" r="2.65"/><circle cx="765.6" cy="379.6" r="2.65"/><circle cx="799.7" cy="378.7" r="2.65"/><circle cx="786.5" cy="330.8" r="2.65"/><circle cx="764" cy="329.4" r="2.65"/><circle cx="844.6" cy="358.3" r="2.65"/><circle cx="866.3" cy="374.7" r="2.65"/><circle cx="771.1" cy="336" r="2.65"/><circle cx="781.1" cy="362.9" r="2.65"/><circle cx="822.4" cy="334.9" r="2.65"/><circle cx="794.3" cy="355.1" r="2.65"/><circle cx="786.7" cy="374.4" r="2.65"/><circle cx="759.4" cy="312.5" r="2.65"/><circle cx="852.2" cy="359.1" r="2.65"/><circle cx="801.6" cy="309.5" r="2.65"/><circle cx="850.6" cy="357" r="2.65"/><circle cx="864.1" cy="340" r="2.65"/><circle cx="794.5" cy="342.8" r="2.65"/><circle cx="774.9" cy="357.2" r="2.65"/><circle cx="759.3" cy="390" r="2.65"/><circle cx="867.3" cy="379.6" r="2.65"/><circle cx="869.7" cy="373.2" r="2.65"/><circle cx="784.6" cy="398.9" r="2.65"/><circle cx="798.2" cy="316.2" r="2.65"/><circle cx="856.4" cy="338.9" r="2.65"/><circle cx="769.4" cy="380.1" r="2.65"/><circle cx="770.4" cy="355.1" r="2.65"/><circle cx="750.1" cy="233.5" r="2.65"/><circle cx="751" cy="232.3" r="2.65"/><circle cx="799.9" cy="226.2" r="2.65"/><circle cx="772.8" cy="243.3" r="2.65"/><circle cx="777.6" cy="245.8" r="2.65"/><circle cx="781.4" cy="253.5" r="2.65"/><circle cx="778.7" cy="261" r="2.65"/><circle cx="792.2" cy="262.5" r="2.65"/><circle cx="805.1" cy="263.1" r="2.65"/><circle cx="774.1" cy="269.4" r="2.65"/><circle cx="790.8" cy="269.6" r="2.65"/><circle cx="779.9" cy="273.8" r="2.65"/><circle cx="788.9" cy="273.5" r="2.65"/><circle cx="793.9" cy="273.5" r="2.65"/><circle cx="755.3" cy="276.9" r="2.65"/><circle cx="765.8" cy="280" r="2.65"/><circle cx="810.8" cy="255.4" r="2.65"/><circle cx="815.3" cy="248.5" r="2.65"/><circle cx="810.8" cy="270.4" r="2.65"/><circle cx="817" cy="274.2" r="2.65"/><circle cx="828.7" cy="230.4" r="2.65"/><circle cx="833.5" cy="227.9" r="2.65"/><circle cx="831.4" cy="240.4" r="2.65"/><circle cx="838" cy="239.6" r="2.65"/><circle cx="832.6" cy="248.5" r="2.65"/><circle cx="826.8" cy="256.5" r="2.65"/><circle cx="832.6" cy="257.3" r="2.65"/><circle cx="825.5" cy="262.1" r="2.65"/><circle cx="839.7" cy="264.6" r="2.65"/><circle cx="842.2" cy="267.9" r="2.65"/><circle cx="848" cy="267.7" r="2.65"/><circle cx="855.1" cy="268.5" r="2.65"/><circle cx="855.5" cy="276.7" r="2.65"/><circle cx="847" cy="277.7" r="2.65"/><circle cx="840.3" cy="277.1" r="2.65"/><circle cx="834.5" cy="277.7" r="2.65"/><circle cx="826.2" cy="276.2" r="2.65"/><circle cx="821" cy="276.2" r="2.65"/><circle cx="859.3" cy="196.5" r="2.65"/><circle cx="868.5" cy="203.8" r="2.65"/><circle cx="862.8" cy="211.2" r="2.65"/><circle cx="870.1" cy="224.8" r="2.65"/><circle cx="871.4" cy="223.5" r="2.65"/><circle cx="865.3" cy="235.2" r="2.65"/><circle cx="867.2" cy="244" r="2.65"/><circle cx="866" cy="251.7" r="2.65"/><circle cx="864.1" cy="256.2" r="2.65"/><circle cx="864.1" cy="265.6" r="2.65"/><circle cx="872.8" cy="265.6" r="2.65"/><circle cx="878.2" cy="260.8" r="2.65"/><circle cx="876.2" cy="269" r="2.65"/><circle cx="886.6" cy="257.5" r="2.65"/><circle cx="894.1" cy="264" r="2.65"/><circle cx="889.7" cy="211.7" r="2.65"/><circle cx="897.4" cy="214.8" r="2.65"/><circle cx="897.4" cy="215.4" r="2.65"/><circle cx="897.4" cy="195" r="2.65"/><circle cx="903.7" cy="185.2" r="2.65"/><circle cx="892.4" cy="234.4" r="2.65"/><circle cx="893.5" cy="241" r="2.65"/><circle cx="899.3" cy="252.5" r="2.65"/><circle cx="900.1" cy="255.4" r="2.65"/><circle cx="902.6" cy="271.2" r="2.65"/><circle cx="851.8" cy="152.1" r="2.65"/><circle cx="862.2" cy="146.5" r="2.65"/><circle cx="871.8" cy="143.8" r="2.65"/><circle cx="879.7" cy="149.6" r="2.65"/><circle cx="877.2" cy="151.9" r="2.65"/><circle cx="878.7" cy="158.1" r="2.65"/><circle cx="871.8" cy="163.3" r="2.65"/><circle cx="903.2" cy="148.5" r="2.65"/><circle cx="907.6" cy="163.8" r="2.65"/><circle cx="885.5" cy="277.7" r="2.65"/><circle cx="891.8" cy="277.7" r="2.65"/><circle cx="749.3" cy="421.6" r="2.65"/><circle cx="756.7" cy="420.6" r="2.65"/><circle cx="762.6" cy="419.4" r="2.65"/><circle cx="767.9" cy="417" r="2.65"/><circle cx="776.7" cy="420.6" r="2.65"/><circle cx="784.5" cy="419.1" r="2.65"/><circle cx="790.8" cy="417.2" r="2.65"/><circle cx="797.8" cy="416.2" r="2.65"/><circle cx="797.8" cy="418" r="2.65"/><circle cx="767.9" cy="425.3" r="2.65"/><circle cx="755.8" cy="436.7" r="2.65"/><circle cx="768.9" cy="432.8" r="2.65"/><circle cx="772" cy="435" r="2.65"/><circle cx="771.7" cy="437" r="2.65"/><circle cx="775.1" cy="435" r="2.65"/><circle cx="789.5" cy="426.6" r="2.65"/><circle cx="791.7" cy="431.6" r="2.65"/><circle cx="797.9" cy="437.5" r="2.65"/><circle cx="804.3" cy="425" r="2.65"/><circle cx="815.8" cy="415.6" r="2.65"/><circle cx="818.1" cy="417.5" r="2.65"/><circle cx="820.4" cy="420.6" r="2.65"/><circle cx="815.8" cy="424.2" r="2.65"/><circle cx="817.3" cy="430.3" r="2.65"/><circle cx="817.6" cy="433.1" r="2.65"/><circle cx="817.9" cy="435.9" r="2.65"/><circle cx="826.8" cy="438" r="2.65"/><circle cx="842" cy="418" r="2.65"/><circle cx="850.4" cy="417.2" r="2.65"/><circle cx="855.6" cy="415.2" r="2.65"/><circle cx="866.4" cy="421.1" r="2.65"/><circle cx="875.1" cy="418" r="2.65"/><circle cx="891.7" cy="421.1" r="2.65"/><circle cx="845.4" cy="434.5" r="2.65"/><circle cx="855.6" cy="431.6" r="2.65"/><circle cx="861.5" cy="441.2" r="2.65"/><circle cx="866.5" cy="450.8" r="2.65"/><circle cx="781.4" cy="449.4" r="2.65"/><circle cx="777.9" cy="456.9" r="2.65"/><circle cx="762.6" cy="458.1" r="2.65"/><circle cx="788.2" cy="464.8" r="2.65"/><circle cx="776.2" cy="479.4" r="2.65"/><circle cx="776.2" cy="479.7" r="2.65"/><circle cx="816.7" cy="480.2" r="2.65"/><circle cx="756.7" cy="405" r="2.65"/><circle cx="802.5" cy="404.2" r="2.65"/><circle cx="814.2" cy="399.5" r="2.65"/><circle cx="820.8" cy="403.1" r="2.65"/><circle cx="825.1" cy="411.2" r="2.65"/><circle cx="829" cy="412" r="2.65"/><circle cx="836.1" cy="406.6" r="2.65"/><circle cx="843.6" cy="407.8" r="2.65"/><circle cx="852.5" cy="403.4" r="2.65"/><circle cx="852.5" cy="408.1" r="2.65"/><circle cx="852" cy="412" r="2.65"/><circle cx="875.9" cy="398.8" r="2.65"/><circle cx="876.7" cy="395.6" r="2.65"/><circle cx="885.1" cy="400.3" r="2.65"/><circle cx="898.1" cy="398.4" r="2.65"/><circle cx="891.2" cy="393.3" r="2.65"/><circle cx="887.3" cy="382.7" r="2.65"/><circle cx="881.4" cy="387.3" r="2.65"/><circle cx="865.8" cy="389.4" r="2.65"/><circle cx="861.1" cy="390.9" r="2.65"/><circle cx="916.8" cy="301.7" r="2.65"/><circle cx="904.1" cy="297.1" r="2.65"/><circle cx="904.7" cy="299.2" r="2.65"/><circle cx="901" cy="283.3" r="2.65"/><circle cx="902.6" cy="271.7" r="2.65"/><circle cx="891.6" cy="277.9" r="2.65"/><circle cx="885.3" cy="278.8" r="2.65"/><circle cx="913.7" cy="326.2" r="2.65"/><circle cx="917.2" cy="325.8" r="2.65"/><circle cx="919.7" cy="331" r="2.65"/><circle cx="917.2" cy="333.5" r="2.65"/><circle cx="915.1" cy="337.7" r="2.65"/><circle cx="907.2" cy="347.7" r="2.65"/><circle cx="914.7" cy="351.9" r="2.65"/><circle cx="913.5" cy="357.1" r="2.65"/><circle cx="904.5" cy="360.6" r="2.65"/><circle cx="913.7" cy="369.6" r="2.65"/></g>

<g class="pI"><circle cx="904" cy="132.9" r="2.65"/><circle cx="904" cy="157.7" r="2.65"/><circle cx="904" cy="374.8" r="2.65"/><circle cx="904" cy="438.5" r="2.65"/><circle cx="904" cy="527.1" r="2.65"/><circle cx="897.6" cy="176.7" r="2.65"/><circle cx="897.6" cy="336.2" r="2.65"/><circle cx="897.6" cy="432.9" r="2.65"/><circle cx="897.6" cy="450" r="2.65"/><circle cx="897.6" cy="457.9" r="2.65"/><circle cx="897.6" cy="517.9" r="2.65"/><circle cx="916.8" cy="162.5" r="2.65"/><circle cx="916.8" cy="433.3" r="2.65"/><circle cx="916.8" cy="436.5" r="2.65"/><circle cx="916.8" cy="437.9" r="2.65"/><circle cx="916.8" cy="480.8" r="2.65"/><circle cx="916.8" cy="496.5" r="2.65"/><circle cx="916.8" cy="526" r="2.65"/><circle cx="929.6" cy="145" r="2.65"/><circle cx="929.6" cy="150.8" r="2.65"/><circle cx="929.6" cy="209.6" r="2.65"/><circle cx="929.6" cy="228.5" r="2.65"/><circle cx="929.6" cy="276.2" r="2.65"/><circle cx="929.6" cy="288.8" r="2.65"/><circle cx="929.6" cy="329.4" r="2.65"/><circle cx="929.6" cy="437.9" r="2.65"/><circle cx="929.6" cy="455.4" r="2.65"/><circle cx="929.6" cy="475.6" r="2.65"/><circle cx="929.6" cy="483.8" r="2.65"/><circle cx="929.6" cy="503.8" r="2.65"/><circle cx="936.1" cy="145.2" r="2.65"/><circle cx="936.1" cy="149.2" r="2.65"/><circle cx="936.1" cy="155.4" r="2.65"/><circle cx="936.1" cy="191.5" r="2.65"/><circle cx="936.1" cy="192.1" r="2.65"/><circle cx="936.1" cy="261.9" r="2.65"/><circle cx="936.1" cy="321.2" r="2.65"/><circle cx="936.1" cy="346.5" r="2.65"/><circle cx="936.1" cy="424.8" r="2.65"/><circle cx="936.1" cy="467.1" r="2.65"/><circle cx="936.1" cy="480.2" r="2.65"/><circle cx="936.1" cy="511.5" r="2.65"/><circle cx="936.1" cy="512.5" r="2.65"/><circle cx="936.1" cy="543.8" r="2.65"/><circle cx="948.9" cy="152.7" r="2.65"/><circle cx="948.9" cy="241.2" r="2.65"/><circle cx="948.9" cy="342.1" r="2.65"/><circle cx="948.9" cy="439.6" r="2.65"/><circle cx="948.9" cy="446.2" r="2.65"/><circle cx="948.9" cy="469.2" r="2.65"/><circle cx="948.9" cy="478.1" r="2.65"/><circle cx="948.9" cy="479.2" r="2.65"/><circle cx="948.9" cy="484.8" r="2.65"/><circle cx="948.9" cy="510.4" r="2.65"/><circle cx="948.9" cy="526.2" r="2.65"/><circle cx="955.3" cy="148.3" r="2.65"/><circle cx="955.3" cy="149.6" r="2.65"/><circle cx="955.3" cy="260" r="2.65"/><circle cx="955.3" cy="344.8" r="2.65"/><circle cx="955.3" cy="515.2" r="2.65"/><circle cx="955.3" cy="521.9" r="2.65"/><circle cx="955.3" cy="542.3" r="2.65"/><circle cx="961.7" cy="154.2" r="2.65"/><circle cx="961.7" cy="255" r="2.65"/><circle cx="961.7" cy="283.8" r="2.65"/><circle cx="961.7" cy="432.9" r="2.65"/><circle cx="961.7" cy="485.8" r="2.65"/><circle cx="961.7" cy="510.4" r="2.65"/><circle cx="961.7" cy="520.4" r="2.65"/><circle cx="961.7" cy="542.3" r="2.65"/><circle cx="968.1" cy="145.4" r="2.65"/><circle cx="968.1" cy="149.8" r="2.65"/><circle cx="968.1" cy="174.8" r="2.65"/><circle cx="968.1" cy="192.5" r="2.65"/><circle cx="968.1" cy="260.2" r="2.65"/><circle cx="968.1" cy="316" r="2.65"/><circle cx="968.1" cy="323.8" r="2.65"/><circle cx="968.1" cy="331" r="2.65"/><circle cx="968.1" cy="408.5" r="2.65"/><circle cx="968.1" cy="417.9" r="2.65"/><circle cx="968.1" cy="420.4" r="2.65"/><circle cx="968.1" cy="440.8" r="2.65"/><circle cx="968.1" cy="445.8" r="2.65"/><circle cx="968.1" cy="460" r="2.65"/><circle cx="968.1" cy="462.5" r="2.65"/><circle cx="968.1" cy="471.5" r="2.65"/><circle cx="968.1" cy="477.1" r="2.65"/><circle cx="968.1" cy="486.5" r="2.65"/><circle cx="968.1" cy="524" r="2.65"/><circle cx="968.1" cy="528.1" r="2.65"/><circle cx="974.5" cy="140.8" r="2.65"/><circle cx="974.5" cy="147.7" r="2.65"/><circle cx="974.5" cy="149.2" r="2.65"/><circle cx="974.5" cy="296.5" r="2.65"/><circle cx="974.5" cy="403.3" r="2.65"/><circle cx="974.5" cy="405.4" r="2.65"/><circle cx="974.5" cy="435.4" r="2.65"/><circle cx="974.5" cy="466" r="2.65"/><circle cx="974.5" cy="494.2" r="2.65"/><circle cx="974.5" cy="495.2" r="2.65"/><circle cx="974.5" cy="519.4" r="2.65"/><circle cx="974.5" cy="524.6" r="2.65"/><circle cx="980.9" cy="147.5" r="2.65"/><circle cx="980.9" cy="248.5" r="2.65"/><circle cx="980.9" cy="337.9" r="2.65"/><circle cx="980.9" cy="371.7" r="2.65"/><circle cx="980.9" cy="373.1" r="2.65"/><circle cx="980.9" cy="467.1" r="2.65"/><circle cx="980.9" cy="532.9" r="2.65"/><circle cx="987.4" cy="138.8" r="2.65"/><circle cx="987.4" cy="140.8" r="2.65"/><circle cx="987.4" cy="143.3" r="2.65"/><circle cx="987.4" cy="146" r="2.65"/><circle cx="987.4" cy="149.2" r="2.65"/><circle cx="987.4" cy="160.4" r="2.65"/><circle cx="987.4" cy="221.7" r="2.65"/><circle cx="987.4" cy="392.9" r="2.65"/><circle cx="987.4" cy="395.6" r="2.65"/><circle cx="987.4" cy="417.9" r="2.65"/><circle cx="987.4" cy="443.3" r="2.65"/><circle cx="987.4" cy="457.9" r="2.65"/><circle cx="987.4" cy="492.1" r="2.65"/><circle cx="987.4" cy="521.9" r="2.65"/><circle cx="987.4" cy="525" r="2.65"/><circle cx="987.4" cy="532.3" r="2.65"/><circle cx="987.4" cy="535.4" r="2.65"/><circle cx="993.8" cy="146.7" r="2.65"/><circle cx="993.8" cy="149.2" r="2.65"/><circle cx="993.8" cy="151.2" r="2.65"/><circle cx="993.8" cy="154.4" r="2.65"/><circle cx="993.8" cy="159.6" r="2.65"/><circle cx="993.8" cy="189.2" r="2.65"/><circle cx="993.8" cy="373.5" r="2.65"/><circle cx="993.8" cy="406.5" r="2.65"/><circle cx="993.8" cy="432.9" r="2.65"/><circle cx="993.8" cy="435" r="2.65"/><circle cx="993.8" cy="445.8" r="2.65"/><circle cx="993.8" cy="456.2" r="2.65"/><circle cx="993.8" cy="465.6" r="2.65"/><circle cx="993.8" cy="468.8" r="2.65"/><circle cx="993.8" cy="503.8" r="2.65"/><circle cx="993.8" cy="527.1" r="2.65"/><circle cx="1000.2" cy="145" r="2.65"/><circle cx="1000.2" cy="148.1" r="2.65"/><circle cx="1000.2" cy="151.2" r="2.65"/><circle cx="1000.2" cy="155.4" r="2.65"/><circle cx="1000.2" cy="158.5" r="2.65"/><circle cx="1000.2" cy="253.3" r="2.65"/><circle cx="1000.2" cy="261.7" r="2.65"/><circle cx="1000.2" cy="282.5" r="2.65"/><circle cx="1000.2" cy="294" r="2.65"/><circle cx="1000.2" cy="355" r="2.65"/><circle cx="1000.2" cy="381.5" r="2.65"/><circle cx="1000.2" cy="402.3" r="2.65"/><circle cx="1000.2" cy="407.9" r="2.65"/><circle cx="1000.2" cy="410" r="2.65"/><circle cx="1000.2" cy="424.2" r="2.65"/><circle cx="1000.2" cy="426" r="2.65"/><circle cx="1000.2" cy="429.2" r="2.65"/><circle cx="1000.2" cy="433.8" r="2.65"/><circle cx="1000.2" cy="446.5" r="2.65"/><circle cx="1000.2" cy="453.1" r="2.65"/><circle cx="1000.2" cy="458.3" r="2.65"/><circle cx="1000.2" cy="461.5" r="2.65"/><circle cx="1000.2" cy="467.7" r="2.65"/><circle cx="1000.2" cy="469.2" r="2.65"/><circle cx="1000.2" cy="476" r="2.65"/><circle cx="1000.2" cy="481.2" r="2.65"/><circle cx="1000.2" cy="485.4" r="2.65"/><circle cx="1000.2" cy="488.5" r="2.65"/><circle cx="1000.2" cy="492.7" r="2.65"/><circle cx="1000.2" cy="497.9" r="2.65"/><circle cx="1000.2" cy="500" r="2.65"/><circle cx="1000.2" cy="504.2" r="2.65"/><circle cx="1000.2" cy="515.2" r="2.65"/><circle cx="1000.2" cy="527.1" r="2.65"/><circle cx="1000.2" cy="528.5" r="2.65"/><circle cx="1000.2" cy="535.4" r="2.65"/><circle cx="1000.2" cy="537.5" r="2.65"/><circle cx="942.5" cy="229.4" r="2.65"/><circle cx="942.5" cy="486.5" r="2.65"/><circle cx="942.5" cy="487.5" r="2.65"/><circle cx="942.5" cy="494.2" r="2.65"/><circle cx="942.5" cy="516.7" r="2.65"/><circle cx="878.4" cy="274.4" r="2.65"/><circle cx="878.4" cy="419.4" r="2.65"/><circle cx="878.4" cy="464" r="2.65"/><circle cx="1006.6" cy="150.6" r="2.65"/><circle cx="1006.6" cy="177.9" r="2.65"/><circle cx="1006.6" cy="371.5" r="2.65"/><circle cx="1006.6" cy="397.7" r="2.65"/><circle cx="1006.6" cy="469.8" r="2.65"/><circle cx="1006.6" cy="470.8" r="2.65"/><circle cx="1006.6" cy="475.6" r="2.65"/><circle cx="1006.6" cy="485" r="2.65"/><circle cx="1006.6" cy="493.8" r="2.65"/><circle cx="1006.6" cy="499" r="2.65"/><circle cx="1006.6" cy="502.7" r="2.65"/><circle cx="1013" cy="135.2" r="2.65"/><circle cx="1013" cy="141.2" r="2.65"/><circle cx="1013" cy="236.2" r="2.65"/><circle cx="1013" cy="313.5" r="2.65"/><circle cx="1013" cy="423.1" r="2.65"/><circle cx="1013" cy="457.9" r="2.65"/><circle cx="1013" cy="467.3" r="2.65"/><circle cx="1013" cy="481.7" r="2.65"/><circle cx="1013" cy="495.4" r="2.65"/><circle cx="1013" cy="503.8" r="2.65"/><circle cx="1013" cy="509.4" r="2.65"/><circle cx="1013" cy="510.4" r="2.65"/><circle cx="1013" cy="520.4" r="2.65"/><circle cx="1013" cy="526" r="2.65"/><circle cx="1013" cy="532.9" r="2.65"/><circle cx="1019.4" cy="146" r="2.65"/><circle cx="1019.4" cy="151.2" r="2.65"/><circle cx="1019.4" cy="152.3" r="2.65"/><circle cx="1019.4" cy="236.2" r="2.65"/><circle cx="1019.4" cy="375.2" r="2.65"/><circle cx="1019.4" cy="440" r="2.65"/><circle cx="1019.4" cy="450" r="2.65"/><circle cx="1019.4" cy="463.1" r="2.65"/><circle cx="1019.4" cy="464.6" r="2.65"/><circle cx="1019.4" cy="468.8" r="2.65"/><circle cx="1019.4" cy="480.8" r="2.65"/><circle cx="1019.4" cy="493.8" r="2.65"/><circle cx="1019.4" cy="503.8" r="2.65"/><circle cx="1019.4" cy="505.6" r="2.65"/><circle cx="1019.4" cy="532.9" r="2.65"/><circle cx="1019.4" cy="545.4" r="2.65"/><circle cx="1025.8" cy="146.7" r="2.65"/><circle cx="1025.8" cy="148.1" r="2.65"/><circle cx="1025.8" cy="150.2" r="2.65"/><circle cx="1025.8" cy="250.6" r="2.65"/><circle cx="1025.8" cy="296.2" r="2.65"/><circle cx="1025.8" cy="319.4" r="2.65"/><circle cx="1025.8" cy="432.9" r="2.65"/><circle cx="1025.8" cy="463.5" r="2.65"/><circle cx="1025.8" cy="475.6" r="2.65"/><circle cx="1025.8" cy="491.7" r="2.65"/><circle cx="1025.8" cy="496.9" r="2.65"/><circle cx="1025.8" cy="527.1" r="2.65"/><circle cx="1032.2" cy="135.6" r="2.65"/><circle cx="1032.2" cy="137.7" r="2.65"/><circle cx="1032.2" cy="140.8" r="2.65"/><circle cx="1032.2" cy="144" r="2.65"/><circle cx="1032.2" cy="147.1" r="2.65"/><circle cx="1032.2" cy="150.2" r="2.65"/><circle cx="1032.2" cy="164.4" r="2.65"/><circle cx="1032.2" cy="182.7" r="2.65"/><circle cx="1032.2" cy="202.3" r="2.65"/><circle cx="1032.2" cy="251.7" r="2.65"/><circle cx="1032.2" cy="293.3" r="2.65"/><circle cx="1032.2" cy="326.9" r="2.65"/><circle cx="1032.2" cy="430" r="2.65"/><circle cx="1032.2" cy="457.3" r="2.65"/><circle cx="1032.2" cy="458.3" r="2.65"/><circle cx="1032.2" cy="464.6" r="2.65"/><circle cx="1032.2" cy="468.8" r="2.65"/><circle cx="1032.2" cy="477.1" r="2.65"/><circle cx="1032.2" cy="478.1" r="2.65"/><circle cx="1032.2" cy="485.4" r="2.65"/><circle cx="1032.2" cy="486.5" r="2.65"/><circle cx="1032.2" cy="493.1" r="2.65"/><circle cx="1032.2" cy="499.4" r="2.65"/><circle cx="1032.2" cy="507.3" r="2.65"/><circle cx="1032.2" cy="514.2" r="2.65"/><circle cx="1032.2" cy="516" r="2.65"/><circle cx="1032.2" cy="519.8" r="2.65"/><circle cx="1032.2" cy="527.1" r="2.65"/><circle cx="1032.2" cy="547.1" r="2.65"/><circle cx="1038.7" cy="140.8" r="2.65"/><circle cx="1038.7" cy="144" r="2.65"/><circle cx="1038.7" cy="147.1" r="2.65"/><circle cx="1038.7" cy="150.2" r="2.65"/><circle cx="1038.7" cy="152.9" r="2.65"/><circle cx="1038.7" cy="174.8" r="2.65"/><circle cx="1038.7" cy="299.6" r="2.65"/><circle cx="1038.7" cy="339.4" r="2.65"/><circle cx="1038.7" cy="369.2" r="2.65"/><circle cx="1038.7" cy="464.6" r="2.65"/><circle cx="1038.7" cy="476" r="2.65"/><circle cx="1038.7" cy="484" r="2.65"/><circle cx="1038.7" cy="499" r="2.65"/><circle cx="1038.7" cy="539" r="2.65"/><circle cx="1045.1" cy="146.7" r="2.65"/><circle cx="1045.1" cy="148.1" r="2.65"/><circle cx="1045.1" cy="150.8" r="2.65"/><circle cx="1045.1" cy="183.1" r="2.65"/><circle cx="1045.1" cy="229.6" r="2.65"/><circle cx="1045.1" cy="407.1" r="2.65"/><circle cx="1045.1" cy="411" r="2.65"/><circle cx="1045.1" cy="434.8" r="2.65"/><circle cx="1045.1" cy="467.7" r="2.65"/><circle cx="1045.1" cy="482.3" r="2.65"/><circle cx="1045.1" cy="486.9" r="2.65"/><circle cx="1045.1" cy="501.7" r="2.65"/><circle cx="1045.1" cy="511.5" r="2.65"/><circle cx="1051.5" cy="139.2" r="2.65"/><circle cx="1051.5" cy="153.3" r="2.65"/><circle cx="1051.5" cy="256.5" r="2.65"/><circle cx="1051.5" cy="280" r="2.65"/><circle cx="1051.5" cy="392.9" r="2.65"/><circle cx="1051.5" cy="419.4" r="2.65"/><circle cx="1051.5" cy="435.4" r="2.65"/><circle cx="1051.5" cy="437.9" r="2.65"/><circle cx="1051.5" cy="441.2" r="2.65"/><circle cx="1051.5" cy="451.5" r="2.65"/><circle cx="1051.5" cy="460" r="2.65"/><circle cx="1051.5" cy="463.1" r="2.65"/><circle cx="1051.5" cy="467.7" r="2.65"/><circle cx="1051.5" cy="474.4" r="2.65"/><circle cx="1051.5" cy="486.9" r="2.65"/><circle cx="1051.5" cy="508.3" r="2.65"/><circle cx="1057.9" cy="156.9" r="2.65"/><circle cx="1057.9" cy="180.6" r="2.65"/><circle cx="1057.9" cy="211.9" r="2.65"/><circle cx="1057.9" cy="350.8" r="2.65"/><circle cx="1057.9" cy="394.6" r="2.65"/><circle cx="1057.9" cy="424.8" r="2.65"/><circle cx="1057.9" cy="463.1" r="2.65"/><circle cx="1057.9" cy="468.8" r="2.65"/><circle cx="1057.9" cy="480.8" r="2.65"/><circle cx="1057.9" cy="503.8" r="2.65"/><circle cx="1057.9" cy="526" r="2.65"/><circle cx="1064.3" cy="140.4" r="2.65"/><circle cx="1064.3" cy="142.9" r="2.65"/><circle cx="1064.3" cy="145.4" r="2.65"/><circle cx="1064.3" cy="148.1" r="2.65"/><circle cx="1064.3" cy="151.2" r="2.65"/><circle cx="1064.3" cy="154.4" r="2.65"/><circle cx="1064.3" cy="157.1" r="2.65"/><circle cx="1064.3" cy="159.6" r="2.65"/><circle cx="1064.3" cy="175.2" r="2.65"/><circle cx="1064.3" cy="177.3" r="2.65"/><circle cx="1064.3" cy="189.4" r="2.65"/><circle cx="1064.3" cy="197.7" r="2.65"/><circle cx="1064.3" cy="302.9" r="2.65"/><circle cx="1064.3" cy="397.5" r="2.65"/><circle cx="1064.3" cy="400.8" r="2.65"/><circle cx="1064.3" cy="402.7" r="2.65"/><circle cx="1064.3" cy="440.6" r="2.65"/><circle cx="1064.3" cy="454.8" r="2.65"/><circle cx="1064.3" cy="470.8" r="2.65"/><circle cx="1064.3" cy="497.9" r="2.65"/><circle cx="1064.3" cy="499.4" r="2.65"/><circle cx="1064.3" cy="502.1" r="2.65"/><circle cx="1064.3" cy="505.2" r="2.65"/><circle cx="1064.3" cy="510" r="2.65"/><circle cx="1064.3" cy="519.2" r="2.65"/><circle cx="1064.3" cy="525" r="2.65"/><circle cx="1064.3" cy="529.2" r="2.65"/><circle cx="1064.3" cy="531.9" r="2.65"/><circle cx="1070.7" cy="128.8" r="2.65"/><circle cx="1070.7" cy="148.1" r="2.65"/><circle cx="1070.7" cy="175" r="2.65"/><circle cx="1070.7" cy="401" r="2.65"/><circle cx="1070.7" cy="478.5" r="2.65"/><circle cx="1070.7" cy="492.1" r="2.65"/><circle cx="1070.7" cy="515.6" r="2.65"/><circle cx="1070.7" cy="519.4" r="2.65"/><circle cx="1070.7" cy="530.2" r="2.65"/><circle cx="1077.1" cy="144.6" r="2.65"/><circle cx="1077.1" cy="298.3" r="2.65"/><circle cx="1077.1" cy="377.5" r="2.65"/><circle cx="1077.1" cy="440.2" r="2.65"/><circle cx="1077.1" cy="461" r="2.65"/><circle cx="1077.1" cy="501.7" r="2.65"/><circle cx="1083.5" cy="145" r="2.65"/><circle cx="1083.5" cy="146.5" r="2.65"/><circle cx="1083.5" cy="225.4" r="2.65"/><circle cx="1083.5" cy="344.6" r="2.65"/><circle cx="1083.5" cy="349.2" r="2.65"/><circle cx="1083.5" cy="419.4" r="2.65"/><circle cx="1083.5" cy="453.1" r="2.65"/><circle cx="1083.5" cy="454.2" r="2.65"/><circle cx="1083.5" cy="467.3" r="2.65"/><circle cx="1083.5" cy="468.3" r="2.65"/><circle cx="1083.5" cy="531.7" r="2.65"/><circle cx="1089.9" cy="146" r="2.65"/><circle cx="1089.9" cy="151.2" r="2.65"/><circle cx="1089.9" cy="152.3" r="2.65"/><circle cx="1089.9" cy="275.2" r="2.65"/><circle cx="1089.9" cy="307.5" r="2.65"/><circle cx="1089.9" cy="445.4" r="2.65"/><circle cx="1089.9" cy="462.5" r="2.65"/><circle cx="1089.9" cy="465.6" r="2.65"/><circle cx="1089.9" cy="475" r="2.65"/><circle cx="1089.9" cy="476" r="2.65"/><circle cx="1089.9" cy="528.1" r="2.65"/><circle cx="1096.4" cy="141.9" r="2.65"/><circle cx="1096.4" cy="144" r="2.65"/><circle cx="1096.4" cy="146.7" r="2.65"/><circle cx="1096.4" cy="148.1" r="2.65"/><circle cx="1096.4" cy="156.5" r="2.65"/><circle cx="1096.4" cy="160.2" r="2.65"/><circle cx="1096.4" cy="235" r="2.65"/><circle cx="1096.4" cy="270.2" r="2.65"/><circle cx="1096.4" cy="308.5" r="2.65"/><circle cx="1096.4" cy="313.1" r="2.65"/><circle cx="1096.4" cy="320" r="2.65"/><circle cx="1096.4" cy="344" r="2.65"/><circle cx="1096.4" cy="370.8" r="2.65"/><circle cx="1096.4" cy="383.5" r="2.65"/><circle cx="1096.4" cy="395" r="2.65"/><circle cx="1096.4" cy="427.9" r="2.65"/><circle cx="1096.4" cy="455.2" r="2.65"/><circle cx="1096.4" cy="465.6" r="2.65"/><circle cx="1096.4" cy="468.1" r="2.65"/><circle cx="1096.4" cy="474.4" r="2.65"/><circle cx="1096.4" cy="504.6" r="2.65"/><circle cx="1096.4" cy="511.5" r="2.65"/><circle cx="1102.8" cy="135.2" r="2.65"/><circle cx="1102.8" cy="148.1" r="2.65"/><circle cx="1102.8" cy="150.2" r="2.65"/><circle cx="1102.8" cy="152.3" r="2.65"/><circle cx="1102.8" cy="192.7" r="2.65"/><circle cx="1102.8" cy="250.4" r="2.65"/><circle cx="1102.8" cy="371.7" r="2.65"/><circle cx="1102.8" cy="485" r="2.65"/><circle cx="1109.2" cy="141.2" r="2.65"/><circle cx="1109.2" cy="163.8" r="2.65"/><circle cx="1109.2" cy="230.6" r="2.65"/><circle cx="1109.2" cy="280" r="2.65"/><circle cx="1109.2" cy="452.1" r="2.65"/><circle cx="1109.2" cy="476" r="2.65"/><circle cx="1109.2" cy="485.4" r="2.65"/><circle cx="1109.2" cy="488.5" r="2.65"/><circle cx="1109.2" cy="496.5" r="2.65"/><circle cx="1115.6" cy="144" r="2.65"/><circle cx="1115.6" cy="391.5" r="2.65"/><circle cx="1115.6" cy="465.6" r="2.65"/><circle cx="1115.6" cy="469.2" r="2.65"/><circle cx="1115.6" cy="475.6" r="2.65"/><circle cx="1115.6" cy="486.5" r="2.65"/><circle cx="1115.6" cy="491.7" r="2.65"/><circle cx="1122" cy="146.5" r="2.65"/><circle cx="1122" cy="221.7" r="2.65"/><circle cx="1122" cy="225.6" r="2.65"/><circle cx="1122" cy="414.6" r="2.65"/><circle cx="1122" cy="439.6" r="2.65"/><circle cx="1122" cy="506.9" r="2.65"/><circle cx="1128.4" cy="136.7" r="2.65"/><circle cx="1128.4" cy="138.8" r="2.65"/><circle cx="1128.4" cy="141.9" r="2.65"/><circle cx="1128.4" cy="144.6" r="2.65"/><circle cx="1128.4" cy="147.1" r="2.65"/><circle cx="1128.4" cy="150.2" r="2.65"/><circle cx="1128.4" cy="152.9" r="2.65"/><circle cx="1128.4" cy="166.9" r="2.65"/><circle cx="1128.4" cy="172.1" r="2.65"/><circle cx="1128.4" cy="178.1" r="2.65"/><circle cx="1128.4" cy="200.2" r="2.65"/><circle cx="1128.4" cy="202.3" r="2.65"/><circle cx="1128.4" cy="204.4" r="2.65"/><circle cx="1128.4" cy="238.1" r="2.65"/><circle cx="1128.4" cy="239.2" r="2.65"/><circle cx="1128.4" cy="249.6" r="2.65"/><circle cx="1128.4" cy="297.3" r="2.65"/><circle cx="1128.4" cy="307.5" r="2.65"/><circle cx="1128.4" cy="317.9" r="2.65"/><circle cx="1128.4" cy="360.4" r="2.65"/><circle cx="1128.4" cy="364.8" r="2.65"/><circle cx="1128.4" cy="365.8" r="2.65"/><circle cx="1128.4" cy="372.1" r="2.65"/><circle cx="1128.4" cy="376.2" r="2.65"/><circle cx="1128.4" cy="406.5" r="2.65"/><circle cx="1128.4" cy="438.5" r="2.65"/><circle cx="1128.4" cy="452.1" r="2.65"/><circle cx="1128.4" cy="462.1" r="2.65"/><circle cx="1128.4" cy="468.8" r="2.65"/><circle cx="1128.4" cy="471.2" r="2.65"/><circle cx="1128.4" cy="474.4" r="2.65"/><circle cx="1128.4" cy="478.8" r="2.65"/><circle cx="1128.4" cy="480.8" r="2.65"/><circle cx="1128.4" cy="485" r="2.65"/><circle cx="1128.4" cy="487.5" r="2.65"/><circle cx="1128.4" cy="493.1" r="2.65"/><circle cx="1128.4" cy="495.8" r="2.65"/><circle cx="1128.4" cy="498.3" r="2.65"/><circle cx="1128.4" cy="505.2" r="2.65"/><circle cx="1128.4" cy="506.2" r="2.65"/><circle cx="1128.4" cy="529.2" r="2.65"/><circle cx="1128.4" cy="531.2" r="2.65"/><circle cx="1128.4" cy="533.3" r="2.65"/><circle cx="1128.4" cy="535.8" r="2.65"/><circle cx="1134.8" cy="163.8" r="2.65"/><circle cx="1134.8" cy="233.3" r="2.65"/><circle cx="1134.8" cy="246.5" r="2.65"/><circle cx="1134.8" cy="481.7" r="2.65"/><circle cx="1134.8" cy="503.8" r="2.65"/><circle cx="1141.2" cy="145" r="2.65"/><circle cx="1141.2" cy="146" r="2.65"/><circle cx="1141.2" cy="150.2" r="2.65"/><circle cx="1141.2" cy="190.2" r="2.65"/><circle cx="1141.2" cy="277.3" r="2.65"/><circle cx="1141.2" cy="299.6" r="2.65"/><circle cx="1141.2" cy="455.8" r="2.65"/><circle cx="1141.2" cy="488.5" r="2.65"/><circle cx="1141.2" cy="519.4" r="2.65"/><circle cx="1147.7" cy="142.3" r="2.65"/><circle cx="1147.7" cy="148.1" r="2.65"/><circle cx="1147.7" cy="157.9" r="2.65"/><circle cx="1147.7" cy="180.6" r="2.65"/><circle cx="1147.7" cy="257.7" r="2.65"/><circle cx="1147.7" cy="412.5" r="2.65"/><circle cx="1147.7" cy="460" r="2.65"/><circle cx="1147.7" cy="482.9" r="2.65"/><circle cx="1147.7" cy="521.9" r="2.65"/><circle cx="1154.1" cy="135.8" r="2.65"/><circle cx="1154.1" cy="176.7" r="2.65"/><circle cx="1154.1" cy="385.4" r="2.65"/><circle cx="1154.1" cy="467.1" r="2.65"/><circle cx="1154.1" cy="485" r="2.65"/><circle cx="1154.1" cy="524.6" r="2.65"/><circle cx="1160.5" cy="136.7" r="2.65"/><circle cx="1160.5" cy="139.2" r="2.65"/><circle cx="1160.5" cy="141.7" r="2.65"/><circle cx="1160.5" cy="144.2" r="2.65"/><circle cx="1160.5" cy="146.7" r="2.65"/><circle cx="1160.5" cy="149.2" r="2.65"/><circle cx="1160.5" cy="151.7" r="2.65"/><circle cx="1160.5" cy="154.2" r="2.65"/><circle cx="1160.5" cy="156.7" r="2.65"/><circle cx="1160.5" cy="159.2" r="2.65"/><circle cx="1160.5" cy="184.2" r="2.65"/><circle cx="1160.5" cy="290.2" r="2.65"/><circle cx="1160.5" cy="346.9" r="2.65"/><circle cx="1160.5" cy="406.5" r="2.65"/><circle cx="1160.5" cy="462.5" r="2.65"/><circle cx="1160.5" cy="464" r="2.65"/><circle cx="1160.5" cy="468.8" r="2.65"/><circle cx="1160.5" cy="470.4" r="2.65"/><circle cx="1160.5" cy="482.7" r="2.65"/><circle cx="1160.5" cy="486.5" r="2.65"/><circle cx="1160.5" cy="496.9" r="2.65"/><circle cx="1160.5" cy="497.9" r="2.65"/><circle cx="1160.5" cy="502.7" r="2.65"/><circle cx="1160.5" cy="513.5" r="2.65"/><circle cx="1160.5" cy="515.2" r="2.65"/><circle cx="1160.5" cy="522.9" r="2.65"/><circle cx="1160.5" cy="526" r="2.65"/><circle cx="1160.5" cy="528.5" r="2.65"/><circle cx="1160.5" cy="550.4" r="2.65"/><circle cx="1166.9" cy="142.5" r="2.65"/><circle cx="1166.9" cy="148.1" r="2.65"/><circle cx="1166.9" cy="150.8" r="2.65"/><circle cx="1166.9" cy="394.4" r="2.65"/><circle cx="1166.9" cy="446.9" r="2.65"/><circle cx="1166.9" cy="462.1" r="2.65"/><circle cx="1166.9" cy="488.5" r="2.65"/><circle cx="1173.3" cy="138.3" r="2.65"/><circle cx="1173.3" cy="140.8" r="2.65"/><circle cx="1173.3" cy="143.3" r="2.65"/><circle cx="1173.3" cy="145.8" r="2.65"/><circle cx="1173.3" cy="148.3" r="2.65"/><circle cx="1173.3" cy="150.8" r="2.65"/><circle cx="1173.3" cy="152.9" r="2.65"/><circle cx="1173.3" cy="228.8" r="2.65"/><circle cx="1173.3" cy="299.6" r="2.65"/><circle cx="1173.3" cy="434.4" r="2.65"/><circle cx="1173.3" cy="462.5" r="2.65"/><circle cx="1173.3" cy="468.8" r="2.65"/><circle cx="1173.3" cy="470.4" r="2.65"/><circle cx="1173.3" cy="477.5" r="2.65"/><circle cx="1173.3" cy="536" r="2.65"/><circle cx="1173.3" cy="544.2" r="2.65"/><circle cx="1173.3" cy="557.7" r="2.65"/><circle cx="1179.7" cy="145.6" r="2.65"/><circle cx="1179.7" cy="160.4" r="2.65"/><circle cx="1179.7" cy="192.1" r="2.65"/><circle cx="1179.7" cy="223.5" r="2.65"/><circle cx="1179.7" cy="243.1" r="2.65"/><circle cx="1179.7" cy="417.3" r="2.65"/><circle cx="1186.1" cy="146.9" r="2.65"/><circle cx="1186.1" cy="170.2" r="2.65"/><circle cx="1186.1" cy="301.9" r="2.65"/><circle cx="1186.1" cy="435.4" r="2.65"/><circle cx="1186.1" cy="467.3" r="2.65"/><circle cx="1192.5" cy="135.6" r="2.65"/><circle cx="1192.5" cy="138.3" r="2.65"/><circle cx="1192.5" cy="140.8" r="2.65"/><circle cx="1192.5" cy="143.3" r="2.65"/><circle cx="1192.5" cy="146" r="2.65"/><circle cx="1192.5" cy="151.7" r="2.65"/><circle cx="1192.5" cy="167.5" r="2.65"/><circle cx="1192.5" cy="168.5" r="2.65"/><circle cx="1192.5" cy="181.2" r="2.65"/><circle cx="1192.5" cy="182.1" r="2.65"/><circle cx="1192.5" cy="200.6" r="2.65"/><circle cx="1192.5" cy="211.7" r="2.65"/><circle cx="1192.5" cy="239.4" r="2.65"/><circle cx="1192.5" cy="301.9" r="2.65"/><circle cx="1192.5" cy="360" r="2.65"/><circle cx="1192.5" cy="414.2" r="2.65"/><circle cx="1192.5" cy="415.2" r="2.65"/><circle cx="1192.5" cy="450.4" r="2.65"/><circle cx="1192.5" cy="458.3" r="2.65"/><circle cx="1192.5" cy="470.8" r="2.65"/><circle cx="1192.5" cy="475" r="2.65"/><circle cx="1192.5" cy="476.5" r="2.65"/><circle cx="1192.5" cy="488.1" r="2.65"/><circle cx="1192.5" cy="498.3" r="2.65"/><circle cx="1192.5" cy="502.1" r="2.65"/><circle cx="1192.5" cy="509.4" r="2.65"/><circle cx="1192.5" cy="516.7" r="2.65"/><circle cx="1192.5" cy="518.8" r="2.65"/><circle cx="1192.5" cy="527.5" r="2.65"/><circle cx="1205.4" cy="139.4" r="2.65"/><circle cx="1205.4" cy="174.8" r="2.65"/><circle cx="1205.4" cy="456.2" r="2.65"/><circle cx="1205.4" cy="481.2" r="2.65"/><circle cx="1205.4" cy="524.6" r="2.65"/><circle cx="1205.4" cy="542.3" r="2.65"/><circle cx="1211.8" cy="141.5" r="2.65"/><circle cx="1211.8" cy="142.3" r="2.65"/><circle cx="1211.8" cy="154.2" r="2.65"/><circle cx="1224.6" cy="141.9" r="2.65"/><circle cx="1224.6" cy="144" r="2.65"/><circle cx="1224.6" cy="146" r="2.65"/><circle cx="1224.6" cy="148.1" r="2.65"/><circle cx="1224.6" cy="150.2" r="2.65"/><circle cx="1224.6" cy="157.5" r="2.65"/><circle cx="1224.6" cy="180" r="2.65"/><circle cx="1224.6" cy="276.7" r="2.65"/><circle cx="1224.6" cy="306.5" r="2.65"/><circle cx="1224.6" cy="434.4" r="2.65"/><circle cx="1224.6" cy="444.8" r="2.65"/><circle cx="1224.6" cy="465.6" r="2.65"/><circle cx="1224.6" cy="478.8" r="2.65"/><circle cx="1224.6" cy="510.8" r="2.65"/><circle cx="1231" cy="149.2" r="2.65"/><circle cx="1231" cy="152.3" r="2.65"/><circle cx="1231" cy="395.4" r="2.65"/><circle cx="1237.4" cy="226.7" r="2.65"/><circle cx="1237.4" cy="370.6" r="2.65"/><circle cx="1237.4" cy="493.3" r="2.65"/><circle cx="1243.8" cy="150.8" r="2.65"/><circle cx="1243.8" cy="476" r="2.65"/><circle cx="1243.8" cy="530.2" r="2.65"/><circle cx="1250.2" cy="152.3" r="2.65"/><circle cx="1256.7" cy="138.8" r="2.65"/><circle cx="1256.7" cy="147.1" r="2.65"/><circle cx="1256.7" cy="148.3" r="2.65"/><circle cx="1256.7" cy="152.9" r="2.65"/><circle cx="1256.7" cy="153.8" r="2.65"/><circle cx="1256.7" cy="176" r="2.65"/><circle cx="1256.7" cy="254.4" r="2.65"/><circle cx="1256.7" cy="261" r="2.65"/><circle cx="1256.7" cy="381.5" r="2.65"/><circle cx="1256.7" cy="401.7" r="2.65"/><circle cx="1256.7" cy="451.5" r="2.65"/><circle cx="1256.7" cy="464.2" r="2.65"/><circle cx="1256.7" cy="488.1" r="2.65"/><circle cx="1256.7" cy="513.1" r="2.65"/><circle cx="1263.1" cy="149" r="2.65"/><circle cx="1263.1" cy="310.2" r="2.65"/><circle cx="1288.7" cy="139.6" r="2.65"/><circle cx="1288.7" cy="147" r="2.65"/><circle cx="1301.5" cy="147.7" r="2.65"/><circle cx="865.5" cy="406.5" r="2.65"/><circle cx="865.5" cy="480.2" r="2.65"/><circle cx="865.5" cy="527.1" r="2.65"/><circle cx="865.5" cy="531.7" r="2.65"/><circle cx="865.5" cy="532.3" r="2.65"/><circle cx="884.8" cy="390.2" r="2.65"/><circle cx="884.8" cy="480.8" r="2.65"/><circle cx="891.2" cy="360.8" r="2.65"/><circle cx="891.2" cy="412.3" r="2.65"/><circle cx="891.2" cy="427.3" r="2.65"/><circle cx="891.2" cy="449.6" r="2.65"/><circle cx="891.2" cy="469.8" r="2.65"/><circle cx="891.2" cy="475.6" r="2.65"/><circle cx="891.2" cy="489.2" r="2.65"/><circle cx="910.4" cy="376.9" r="2.65"/><circle cx="910.4" cy="447.9" r="2.65"/><circle cx="910.4" cy="457.3" r="2.65"/><circle cx="910.4" cy="532.9" r="2.65"/><circle cx="923.2" cy="297.5" r="2.65"/><circle cx="923.2" cy="425.8" r="2.65"/><circle cx="923.2" cy="433.3" r="2.65"/><circle cx="923.2" cy="466" r="2.65"/><circle cx="923.2" cy="531.7" r="2.65"/><circle cx="1199" cy="381.7" r="2.65"/><circle cx="1199" cy="509.4" r="2.65"/><circle cx="871.9" cy="499.4" r="2.65"/><circle cx="1218.2" cy="437.5" r="2.65"/><circle cx="1218.2" cy="465.6" r="2.65"/><circle cx="1275.9" cy="462.1" r="2.65"/><circle cx="1282.3" cy="458.8" r="2.65"/><circle cx="1282.3" cy="485.6" r="2.65"/><circle cx="859.1" cy="444.4" r="2.65"/></g>

<g fill="none" stroke-width="5.3" stroke-linecap="butt">
<line stroke="#F8766D" x1="236.7" y1="429.3" x2="679.2" y2="457.3"/>
<line stroke="#F8766D" x1="859.1" y1="416.6" x2="1301.5" y2="278.8"/>
<line stroke="#00BFC4" x1="750" y1="354.3" x2="918.3" y2="314.4"/>
</g>

<rect x="99.9" y="107.5" width="606.5" height="471.2" fill="none" stroke="#000" stroke-width="1.5"/>
<rect x="99.2" y="61.8" width="607.9" height="46.2" fill="#000"/>
<text class="st" x="403.1" y="93" text-anchor="middle">OT56kda_IgM</text>
<line class="tk" x1="121.5" x2="121.5" y1="579.4" y2="586.8"/>
<text class="ax" x="121.5" y="610.2" text-anchor="middle">0</text>
<line class="tk" x1="281.8" x2="281.8" y1="579.4" y2="586.8"/>
<text class="ax" x="281.8" y="610.2" text-anchor="middle">25</text>
<line class="tk" x1="442.1" x2="442.1" y1="579.4" y2="586.8"/>
<text class="ax" x="442.1" y="610.2" text-anchor="middle">50</text>
<line class="tk" x1="602.4" x2="602.4" y1="579.4" y2="586.8"/>
<text class="ax" x="602.4" y="610.2" text-anchor="middle">75</text>
<rect x="722.6" y="107.5" width="606.4" height="471.2" fill="none" stroke="#000" stroke-width="1.5"/>
<rect x="721.9" y="61.8" width="607.8" height="46.2" fill="#000"/>
<text class="st" x="1025.8" y="93" text-anchor="middle">OT56kda_IgG</text>
<line class="tk" x1="743.5" x2="743.5" y1="579.4" y2="586.8"/>
<text class="ax" x="743.5" y="610.2" text-anchor="middle">0</text>
<line class="tk" x1="903.8" x2="903.8" y1="579.4" y2="586.8"/>
<text class="ax" x="903.8" y="610.2" text-anchor="middle">25</text>
<line class="tk" x1="1064.2" x2="1064.2" y1="579.4" y2="586.8"/>
<text class="ax" x="1064.2" y="610.2" text-anchor="middle">50</text>
<line class="tk" x1="1224.6" x2="1224.6" y1="579.4" y2="586.8"/>
<text class="ax" x="1224.6" y="610.2" text-anchor="middle">75</text>
<line class="tk" x1="92.2" x2="99.2" y1="262.4" y2="262.4"/>
<text class="ax" x="86.4" y="271.0" text-anchor="end">1.0</text>
<line class="tk" x1="92.2" x2="99.2" y1="491.3" y2="491.3"/>
<text class="ax" x="86.4" y="499.9" text-anchor="end">0.1</text>
<text class="lab" x="714.5" y="642.5" text-anchor="middle">Age</text>
<text class="lab" transform="translate(36.8,343.8) rotate(-90)" text-anchor="middle">Antibody Response Value</text>
<text class="lab" x="520.2" y="725.5">country</text>
<line x1="651.6" x2="688.9" y1="715.9" y2="715.9" stroke="#F8766D" stroke-width="5.3"/>
<g class="pI"><circle cx="670.2" cy="715.9" r="2.65"/></g>
<text class="ax" x="708" y="724" style="fill:#000">India</text>
<line x1="784.1" x2="821.4" y1="715.9" y2="715.9" stroke="#00BFC4" stroke-width="5.3"/>
<g class="pN"><circle cx="802.7" cy="715.9" r="2.65"/></g>
<text class="ax" x="841" y="724" style="fill:#000">Nepal</text>
</svg></body></html>
